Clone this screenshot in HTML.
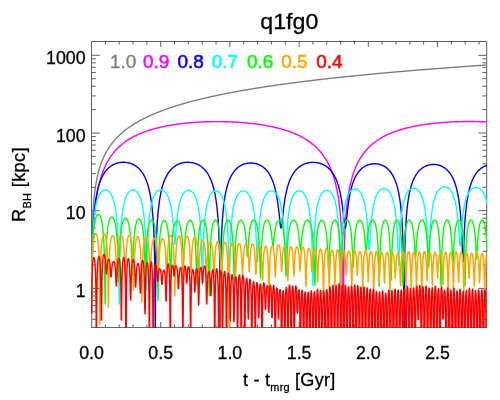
<!DOCTYPE html>
<html><head><meta charset="utf-8"><title>q1fg0</title>
<style>html,body{margin:0;padding:0;background:#fff;}svg{display:block;}.t,.t text,.t tspan{font-family:"Liberation Sans",sans-serif;}</style></head>
<body>
<svg width="500" height="400" viewBox="0 0 500 400">
<defs><clipPath id="c"><rect x="91.00" y="41.00" width="396.20" height="286.95"/></clipPath></defs>
<rect width="500" height="400" fill="#fff"/>
<path d="M91.50 41.50H486.70V327.45H91.50ZM105.34 327.45v-3.00M105.34 41.50v3.00M119.18 327.45v-3.00M119.18 41.50v3.00M133.02 327.45v-3.00M133.02 41.50v3.00M146.86 327.45v-3.00M146.86 41.50v3.00M160.70 327.45v-5.50M160.70 41.50v5.50M174.54 327.45v-3.00M174.54 41.50v3.00M188.38 327.45v-3.00M188.38 41.50v3.00M202.22 327.45v-3.00M202.22 41.50v3.00M216.06 327.45v-3.00M216.06 41.50v3.00M229.90 327.45v-5.50M229.90 41.50v5.50M243.74 327.45v-3.00M243.74 41.50v3.00M257.58 327.45v-3.00M257.58 41.50v3.00M271.42 327.45v-3.00M271.42 41.50v3.00M285.26 327.45v-3.00M285.26 41.50v3.00M299.10 327.45v-5.50M299.10 41.50v5.50M312.94 327.45v-3.00M312.94 41.50v3.00M326.78 327.45v-3.00M326.78 41.50v3.00M340.62 327.45v-3.00M340.62 41.50v3.00M354.46 327.45v-3.00M354.46 41.50v3.00M368.30 327.45v-5.50M368.30 41.50v5.50M382.14 327.45v-3.00M382.14 41.50v3.00M395.98 327.45v-3.00M395.98 41.50v3.00M409.82 327.45v-3.00M409.82 41.50v3.00M423.66 327.45v-3.00M423.66 41.50v3.00M437.50 327.45v-5.50M437.50 41.50v5.50M451.34 327.45v-3.00M451.34 41.50v3.00M465.18 327.45v-3.00M465.18 41.50v3.00M479.02 327.45v-3.00M479.02 41.50v3.00M91.50 319.32h4.30M486.70 319.32h-4.30M91.50 311.79h4.30M486.70 311.79h-4.30M91.50 305.64h4.30M486.70 305.64h-4.30M91.50 300.44h4.30M486.70 300.44h-4.30M91.50 295.93h4.30M486.70 295.93h-4.30M91.50 291.96h4.30M486.70 291.96h-4.30M91.50 288.40h8.30M486.70 288.40h-8.30M91.50 265.01h4.30M486.70 265.01h-4.30M91.50 251.33h4.30M486.70 251.33h-4.30M91.50 241.62h4.30M486.70 241.62h-4.30M91.50 234.09h4.30M486.70 234.09h-4.30M91.50 227.94h4.30M486.70 227.94h-4.30M91.50 222.74h4.30M486.70 222.74h-4.30M91.50 218.23h4.30M486.70 218.23h-4.30M91.50 214.26h4.30M486.70 214.26h-4.30M91.50 210.70h8.30M486.70 210.70h-8.30M91.50 187.31h4.30M486.70 187.31h-4.30M91.50 173.63h4.30M486.70 173.63h-4.30M91.50 163.92h4.30M486.70 163.92h-4.30M91.50 156.39h4.30M486.70 156.39h-4.30M91.50 150.24h4.30M486.70 150.24h-4.30M91.50 145.04h4.30M486.70 145.04h-4.30M91.50 140.53h4.30M486.70 140.53h-4.30M91.50 136.56h4.30M486.70 136.56h-4.30M91.50 133.00h8.30M486.70 133.00h-8.30M91.50 109.61h4.30M486.70 109.61h-4.30M91.50 95.93h4.30M486.70 95.93h-4.30M91.50 86.22h4.30M486.70 86.22h-4.30M91.50 78.69h4.30M486.70 78.69h-4.30M91.50 72.54h4.30M486.70 72.54h-4.30M91.50 67.34h4.30M486.70 67.34h-4.30M91.50 62.83h4.30M486.70 62.83h-4.30M91.50 58.86h4.30M486.70 58.86h-4.30M91.50 55.30h8.30M486.70 55.30h-8.30" fill="none" stroke="#5e5e5e" stroke-width="1"/>
<g clip-path="url(#c)" fill="none" stroke-width="1.4" stroke-linejoin="round" stroke-linecap="round">
<path stroke="#7f7f7f" d="M91.50 335.45L91.85 251.22L92.20 232.86L92.55 222.12L92.90 214.50L93.25 208.59L93.60 203.76L93.95 199.67L94.30 196.14L94.65 193.02L95.00 190.23L95.35 187.70L95.70 185.40L96.05 183.28L96.40 181.31L96.75 179.49L97.10 177.78L97.45 176.17L97.80 174.66L98.15 173.22L98.50 171.87L98.85 170.57L99.20 169.34L99.55 168.16L99.90 167.04L100.25 165.95L100.60 164.92L100.95 163.92L101.30 162.95L101.65 162.02L102.00 161.12L102.35 160.26L102.70 159.41L103.05 158.60L103.40 157.81L103.75 157.04L104.10 156.29L104.45 155.57L104.80 154.86L105.15 154.17L105.50 153.50L105.85 152.85L106.20 152.21L106.55 151.59L106.90 150.98L107.25 150.38L107.60 149.80L107.95 149.23L108.30 148.67L108.65 148.13L109.00 147.59L109.35 147.07L109.70 146.55L110.05 146.05L110.40 145.55L110.75 145.07L111.10 144.59L111.45 144.12L111.80 143.66L112.15 143.21L112.50 142.76L112.85 142.33L113.20 141.89L113.55 141.47L113.90 141.05L114.25 140.64L114.60 140.24L114.95 139.84L115.30 139.45L115.65 139.06L116.00 138.68L116.35 138.30L116.70 137.93L117.05 137.57L117.40 137.21L117.75 136.85L118.10 136.50L118.45 136.16L118.80 135.81L119.15 135.48L119.50 135.14L119.85 134.81L120.20 134.49L120.55 134.17L120.90 133.85L121.25 133.54L121.60 133.23L121.95 132.92L122.30 132.62L122.65 132.32L123.00 132.02L123.35 131.73L123.70 131.44L124.05 131.15L124.40 130.87L124.75 130.59L125.10 130.31L125.45 130.04L125.80 129.77L126.15 129.50L126.50 129.23L126.85 128.97L127.20 128.71L127.55 128.45L127.90 128.19L128.25 127.94L128.60 127.69L128.95 127.44L129.30 127.19L129.65 126.95L130.00 126.71L130.35 126.47L130.70 126.23L131.05 125.99L131.40 125.76L131.75 125.53L132.10 125.30L132.45 125.07L132.80 124.85L133.15 124.62L133.50 124.40L133.85 124.18L134.20 123.96L134.55 123.75L134.90 123.53L135.25 123.32L135.60 123.11L135.95 122.90L136.30 122.69L136.65 122.49L137.00 122.28L137.35 122.08L137.70 121.88L138.05 121.68L138.40 121.48L138.75 121.28L139.10 121.09L139.45 120.89L139.80 120.70L140.15 120.51L140.50 120.32L140.85 120.13L141.20 119.94L141.55 119.76L141.90 119.57L142.25 119.39L142.60 119.21L142.95 119.03L143.30 118.85L143.65 118.67L144.00 118.49L144.35 118.32L144.70 118.14L145.05 117.97L145.40 117.79L145.75 117.62L146.10 117.45L146.45 117.28L146.80 117.11L147.15 116.95L147.50 116.78L147.85 116.62L148.20 116.45L148.55 116.29L148.90 116.13L149.25 115.97L149.60 115.81L149.95 115.65L150.30 115.49L150.65 115.33L151.00 115.18L151.35 115.02L151.70 114.87L152.05 114.71L152.40 114.56L152.75 114.41L153.10 114.26L153.45 114.11L153.80 113.96L154.15 113.81L154.50 113.66L154.85 113.51L155.20 113.37L155.55 113.22L155.90 113.08L156.25 112.94L156.60 112.79L156.95 112.65L157.30 112.51L157.65 112.37L158.00 112.23L158.35 112.09L158.70 111.95L159.05 111.81L159.40 111.68L159.75 111.54L160.10 111.41L160.45 111.27L160.80 111.14L161.15 111.00L161.50 110.87L161.85 110.74L162.20 110.61L162.55 110.48L162.90 110.35L163.25 110.22L163.60 110.09L163.95 109.96L164.30 109.83L164.65 109.70L165.00 109.58L165.35 109.45L165.70 109.33L166.05 109.20L166.40 109.08L166.75 108.95L167.10 108.83L167.45 108.71L167.80 108.59L168.15 108.47L168.50 108.35L168.85 108.23L169.20 108.11L169.55 107.99L169.90 107.87L170.25 107.75L170.60 107.63L170.95 107.52L171.30 107.40L171.65 107.28L172.00 107.17L172.35 107.05L172.70 106.94L173.05 106.83L173.40 106.71L173.75 106.60L174.10 106.49L174.45 106.37L174.80 106.26L175.15 106.15L175.50 106.04L175.85 105.93L176.20 105.82L176.55 105.71L176.90 105.60L177.25 105.49L177.60 105.39L177.95 105.28L178.30 105.17L178.65 105.07L179.00 104.96L179.35 104.85L179.70 104.75L180.05 104.64L180.40 104.54L180.75 104.44L181.10 104.33L181.45 104.23L181.80 104.13L182.15 104.02L182.50 103.92L182.85 103.82L183.20 103.72L183.55 103.62L183.90 103.52L184.25 103.42L184.60 103.32L184.95 103.22L185.30 103.12L185.65 103.02L186.00 102.92L186.35 102.82L186.70 102.73L187.05 102.63L187.40 102.53L187.75 102.43L188.10 102.34L188.45 102.24L188.80 102.15L189.15 102.05L189.50 101.96L189.85 101.86L190.20 101.77L190.55 101.68L190.90 101.58L191.25 101.49L191.60 101.40L191.95 101.30L192.30 101.21L192.65 101.12L193.00 101.03L193.35 100.94L193.70 100.85L194.05 100.76L194.40 100.67L194.75 100.58L195.10 100.49L195.45 100.40L195.80 100.31L196.15 100.22L196.50 100.13L196.85 100.04L197.20 99.95L197.55 99.87L197.90 99.78L198.25 99.69L198.60 99.61L198.95 99.52L199.30 99.43L199.65 99.35L200.00 99.26L200.35 99.18L200.70 99.09L201.05 99.01L201.40 98.92L201.75 98.84L202.10 98.75L202.45 98.67L202.80 98.59L203.15 98.50L203.50 98.42L203.85 98.34L204.20 98.26L204.55 98.17L204.90 98.09L205.25 98.01L205.60 97.93L205.95 97.85L206.30 97.77L206.65 97.69L207.00 97.61L207.35 97.53L207.70 97.45L208.05 97.37L208.40 97.29L208.75 97.21L209.10 97.13L209.45 97.05L209.80 96.97L210.15 96.89L210.50 96.81L210.85 96.74L211.20 96.66L211.55 96.58L211.90 96.50L212.25 96.43L212.60 96.35L212.95 96.27L213.30 96.20L213.65 96.12L214.00 96.05L214.35 95.97L214.70 95.90L215.05 95.82L215.40 95.75L215.75 95.67L216.10 95.60L216.45 95.52L216.80 95.45L217.15 95.37L217.50 95.30L217.85 95.23L218.20 95.15L218.55 95.08L218.90 95.01L219.25 94.93L219.60 94.86L219.95 94.79L220.30 94.72L220.65 94.65L221.00 94.57L221.35 94.50L221.70 94.43L222.05 94.36L222.40 94.29L222.75 94.22L223.10 94.15L223.45 94.08L223.80 94.01L224.15 93.94L224.50 93.87L224.85 93.80L225.20 93.73L225.55 93.66L225.90 93.59L226.25 93.52L226.60 93.45L226.95 93.38L227.30 93.32L227.65 93.25L228.00 93.18L228.35 93.11L228.70 93.04L229.05 92.98L229.40 92.91L229.75 92.84L230.10 92.78L230.45 92.71L230.80 92.64L231.15 92.58L231.50 92.51L231.85 92.44L232.20 92.38L232.55 92.31L232.90 92.25L233.25 92.18L233.60 92.12L233.95 92.05L234.30 91.98L234.65 91.92L235.00 91.86L235.35 91.79L235.70 91.73L236.05 91.66L236.40 91.60L236.75 91.53L237.10 91.47L237.45 91.41L237.80 91.34L238.15 91.28L238.50 91.22L238.85 91.15L239.20 91.09L239.55 91.03L239.90 90.97L240.25 90.90L240.60 90.84L240.95 90.78L241.30 90.72L241.65 90.66L242.00 90.59L242.35 90.53L242.70 90.47L243.05 90.41L243.40 90.35L243.75 90.29L244.10 90.23L244.45 90.17L244.80 90.11L245.15 90.04L245.50 89.98L245.85 89.92L246.20 89.86L246.55 89.80L246.90 89.74L247.25 89.69L247.60 89.63L247.95 89.57L248.30 89.51L248.65 89.45L249.00 89.39L249.35 89.33L249.70 89.27L250.05 89.21L250.40 89.15L250.75 89.10L251.10 89.04L251.45 88.98L251.80 88.92L252.15 88.86L252.50 88.81L252.85 88.75L253.20 88.69L253.55 88.63L253.90 88.58L254.25 88.52L254.60 88.46L254.95 88.41L255.30 88.35L255.65 88.29L256.00 88.24L256.35 88.18L256.70 88.12L257.05 88.07L257.40 88.01L257.75 87.96L258.10 87.90L258.45 87.85L258.80 87.79L259.15 87.74L259.50 87.68L259.85 87.62L260.20 87.57L260.55 87.51L260.90 87.46L261.25 87.41L261.60 87.35L261.95 87.30L262.30 87.24L262.65 87.19L263.00 87.13L263.35 87.08L263.70 87.03L264.05 86.97L264.40 86.92L264.75 86.86L265.10 86.81L265.45 86.76L265.80 86.70L266.15 86.65L266.50 86.60L266.85 86.55L267.20 86.49L267.55 86.44L267.90 86.39L268.25 86.33L268.60 86.28L268.95 86.23L269.30 86.18L269.65 86.13L270.00 86.07L270.35 86.02L270.70 85.97L271.05 85.92L271.40 85.87L271.75 85.82L272.10 85.76L272.45 85.71L272.80 85.66L273.15 85.61L273.50 85.56L273.85 85.51L274.20 85.46L274.55 85.41L274.90 85.36L275.25 85.31L275.60 85.26L275.95 85.21L276.30 85.16L276.65 85.10L277.00 85.05L277.35 85.00L277.70 84.96L278.05 84.91L278.40 84.86L278.75 84.81L279.10 84.76L279.45 84.71L279.80 84.66L280.15 84.61L280.50 84.56L280.85 84.51L281.20 84.46L281.55 84.41L281.90 84.36L282.25 84.32L282.60 84.27L282.95 84.22L283.30 84.17L283.65 84.12L284.00 84.07L284.35 84.03L284.70 83.98L285.05 83.93L285.40 83.88L285.75 83.83L286.10 83.79L286.45 83.74L286.80 83.69L287.15 83.64L287.50 83.60L287.85 83.55L288.20 83.50L288.55 83.45L288.90 83.41L289.25 83.36L289.60 83.31L289.95 83.27L290.30 83.22L290.65 83.17L291.00 83.13L291.35 83.08L291.70 83.03L292.05 82.99L292.40 82.94L292.75 82.90L293.10 82.85L293.45 82.80L293.80 82.76L294.15 82.71L294.50 82.67L294.85 82.62L295.20 82.58L295.55 82.53L295.90 82.48L296.25 82.44L296.60 82.39L296.95 82.35L297.30 82.30L297.65 82.26L298.00 82.21L298.35 82.17L298.70 82.12L299.05 82.08L299.40 82.04L299.75 81.99L300.10 81.95L300.45 81.90L300.80 81.86L301.15 81.81L301.50 81.77L301.85 81.72L302.20 81.68L302.55 81.64L302.90 81.59L303.25 81.55L303.60 81.51L303.95 81.46L304.30 81.42L304.65 81.37L305.00 81.33L305.35 81.29L305.70 81.24L306.05 81.20L306.40 81.16L306.75 81.11L307.10 81.07L307.45 81.03L307.80 80.99L308.15 80.94L308.50 80.90L308.85 80.86L309.20 80.81L309.55 80.77L309.90 80.73L310.25 80.69L310.60 80.65L310.95 80.60L311.30 80.56L311.65 80.52L312.00 80.48L312.35 80.43L312.70 80.39L313.05 80.35L313.40 80.31L313.75 80.27L314.10 80.23L314.45 80.18L314.80 80.14L315.15 80.10L315.50 80.06L315.85 80.02L316.20 79.98L316.55 79.94L316.90 79.89L317.25 79.85L317.60 79.81L317.95 79.77L318.30 79.73L318.65 79.69L319.00 79.65L319.35 79.61L319.70 79.57L320.05 79.53L320.40 79.49L320.75 79.45L321.10 79.41L321.45 79.36L321.80 79.32L322.15 79.28L322.50 79.24L322.85 79.20L323.20 79.16L323.55 79.12L323.90 79.08L324.25 79.04L324.60 79.00L324.95 78.96L325.30 78.92L325.65 78.89L326.00 78.85L326.35 78.81L326.70 78.77L327.05 78.73L327.40 78.69L327.75 78.65L328.10 78.61L328.45 78.57L328.80 78.53L329.15 78.49L329.50 78.45L329.85 78.41L330.20 78.38L330.55 78.34L330.90 78.30L331.25 78.26L331.60 78.22L331.95 78.18L332.30 78.14L332.65 78.10L333.00 78.07L333.35 78.03L333.70 77.99L334.05 77.95L334.40 77.91L334.75 77.88L335.10 77.84L335.45 77.80L335.80 77.76L336.15 77.72L336.50 77.69L336.85 77.65L337.20 77.61L337.55 77.57L337.90 77.53L338.25 77.50L338.60 77.46L338.95 77.42L339.30 77.38L339.65 77.35L340.00 77.31L340.35 77.27L340.70 77.24L341.05 77.20L341.40 77.16L341.75 77.12L342.10 77.09L342.45 77.05L342.80 77.01L343.15 76.98L343.50 76.94L343.85 76.90L344.20 76.87L344.55 76.83L344.90 76.79L345.25 76.76L345.60 76.72L345.95 76.68L346.30 76.65L346.65 76.61L347.00 76.57L347.35 76.54L347.70 76.50L348.05 76.47L348.40 76.43L348.75 76.39L349.10 76.36L349.45 76.32L349.80 76.29L350.15 76.25L350.50 76.21L350.85 76.18L351.20 76.14L351.55 76.11L351.90 76.07L352.25 76.04L352.60 76.00L352.95 75.96L353.30 75.93L353.65 75.89L354.00 75.86L354.35 75.82L354.70 75.79L355.05 75.75L355.40 75.72L355.75 75.68L356.10 75.65L356.45 75.61L356.80 75.58L357.15 75.54L357.50 75.51L357.85 75.47L358.20 75.44L358.55 75.40L358.90 75.37L359.25 75.33L359.60 75.30L359.95 75.26L360.30 75.23L360.65 75.20L361.00 75.16L361.35 75.13L361.70 75.09L362.05 75.06L362.40 75.02L362.75 74.99L363.10 74.96L363.45 74.92L363.80 74.89L364.15 74.85L364.50 74.82L364.85 74.78L365.20 74.75L365.55 74.72L365.90 74.68L366.25 74.65L366.60 74.62L366.95 74.58L367.30 74.55L367.65 74.51L368.00 74.48L368.35 74.45L368.70 74.41L369.05 74.38L369.40 74.35L369.75 74.31L370.10 74.28L370.45 74.25L370.80 74.21L371.15 74.18L371.50 74.15L371.85 74.12L372.20 74.08L372.55 74.05L372.90 74.02L373.25 73.98L373.60 73.95L373.95 73.92L374.30 73.88L374.65 73.85L375.00 73.82L375.35 73.79L375.70 73.75L376.05 73.72L376.40 73.69L376.75 73.66L377.10 73.62L377.45 73.59L377.80 73.56L378.15 73.53L378.50 73.49L378.85 73.46L379.20 73.43L379.55 73.40L379.90 73.37L380.25 73.33L380.60 73.30L380.95 73.27L381.30 73.24L381.65 73.20L382.00 73.17L382.35 73.14L382.70 73.11L383.05 73.08L383.40 73.05L383.75 73.01L384.10 72.98L384.45 72.95L384.80 72.92L385.15 72.89L385.50 72.86L385.85 72.82L386.20 72.79L386.55 72.76L386.90 72.73L387.25 72.70L387.60 72.67L387.95 72.64L388.30 72.60L388.65 72.57L389.00 72.54L389.35 72.51L389.70 72.48L390.05 72.45L390.40 72.42L390.75 72.39L391.10 72.36L391.45 72.33L391.80 72.29L392.15 72.26L392.50 72.23L392.85 72.20L393.20 72.17L393.55 72.14L393.90 72.11L394.25 72.08L394.60 72.05L394.95 72.02L395.30 71.99L395.65 71.96L396.00 71.93L396.35 71.90L396.70 71.87L397.05 71.84L397.40 71.80L397.75 71.77L398.10 71.74L398.45 71.71L398.80 71.68L399.15 71.65L399.50 71.62L399.85 71.59L400.20 71.56L400.55 71.53L400.90 71.50L401.25 71.47L401.60 71.44L401.95 71.41L402.30 71.38L402.65 71.35L403.00 71.32L403.35 71.29L403.70 71.26L404.05 71.24L404.40 71.21L404.75 71.18L405.10 71.15L405.45 71.12L405.80 71.09L406.15 71.06L406.50 71.03L406.85 71.00L407.20 70.97L407.55 70.94L407.90 70.91L408.25 70.88L408.60 70.85L408.95 70.82L409.30 70.79L409.65 70.76L410.00 70.74L410.35 70.71L410.70 70.68L411.05 70.65L411.40 70.62L411.75 70.59L412.10 70.56L412.45 70.53L412.80 70.50L413.15 70.47L413.50 70.45L413.85 70.42L414.20 70.39L414.55 70.36L414.90 70.33L415.25 70.30L415.60 70.27L415.95 70.25L416.30 70.22L416.65 70.19L417.00 70.16L417.35 70.13L417.70 70.10L418.05 70.07L418.40 70.05L418.75 70.02L419.10 69.99L419.45 69.96L419.80 69.93L420.15 69.90L420.50 69.88L420.85 69.85L421.20 69.82L421.55 69.79L421.90 69.76L422.25 69.74L422.60 69.71L422.95 69.68L423.30 69.65L423.65 69.62L424.00 69.60L424.35 69.57L424.70 69.54L425.05 69.51L425.40 69.48L425.75 69.46L426.10 69.43L426.45 69.40L426.80 69.37L427.15 69.35L427.50 69.32L427.85 69.29L428.20 69.26L428.55 69.24L428.90 69.21L429.25 69.18L429.60 69.15L429.95 69.13L430.30 69.10L430.65 69.07L431.00 69.04L431.35 69.02L431.70 68.99L432.05 68.96L432.40 68.94L432.75 68.91L433.10 68.88L433.45 68.85L433.80 68.83L434.15 68.80L434.50 68.77L434.85 68.75L435.20 68.72L435.55 68.69L435.90 68.66L436.25 68.64L436.60 68.61L436.95 68.58L437.30 68.56L437.65 68.53L438.00 68.50L438.35 68.48L438.70 68.45L439.05 68.42L439.40 68.40L439.75 68.37L440.10 68.34L440.45 68.32L440.80 68.29L441.15 68.26L441.50 68.24L441.85 68.21L442.20 68.18L442.55 68.16L442.90 68.13L443.25 68.11L443.60 68.08L443.95 68.05L444.30 68.03L444.65 68.00L445.00 67.97L445.35 67.95L445.70 67.92L446.05 67.90L446.40 67.87L446.75 67.84L447.10 67.82L447.45 67.79L447.80 67.76L448.15 67.74L448.50 67.71L448.85 67.69L449.20 67.66L449.55 67.63L449.90 67.61L450.25 67.58L450.60 67.56L450.95 67.53L451.30 67.51L451.65 67.48L452.00 67.45L452.35 67.43L452.70 67.40L453.05 67.38L453.40 67.35L453.75 67.33L454.10 67.30L454.45 67.27L454.80 67.25L455.15 67.22L455.50 67.20L455.85 67.17L456.20 67.15L456.55 67.12L456.90 67.10L457.25 67.07L457.60 67.05L457.95 67.02L458.30 67.00L458.65 66.97L459.00 66.94L459.35 66.92L459.70 66.89L460.05 66.87L460.40 66.84L460.75 66.82L461.10 66.79L461.45 66.77L461.80 66.74L462.15 66.72L462.50 66.69L462.85 66.67L463.20 66.64L463.55 66.62L463.90 66.59L464.25 66.57L464.60 66.54L464.95 66.52L465.30 66.49L465.65 66.47L466.00 66.44L466.35 66.42L466.70 66.40L467.05 66.37L467.40 66.35L467.75 66.32L468.10 66.30L468.45 66.27L468.80 66.25L469.15 66.22L469.50 66.20L469.85 66.17L470.20 66.15L470.55 66.13L470.90 66.10L471.25 66.08L471.60 66.05L471.95 66.03L472.30 66.00L472.65 65.98L473.00 65.95L473.35 65.93L473.70 65.91L474.05 65.88L474.40 65.86L474.75 65.83L475.10 65.81L475.45 65.78L475.80 65.76L476.15 65.74L476.50 65.71L476.85 65.69L477.20 65.66L477.55 65.64L477.90 65.62L478.25 65.59L478.60 65.57L478.95 65.54L479.30 65.52L479.65 65.50L480.00 65.47L480.35 65.45L480.70 65.43L481.05 65.40L481.40 65.38L481.75 65.35L482.10 65.33L482.45 65.31L482.80 65.28L483.15 65.26L483.50 65.24L483.85 65.21L484.20 65.19L484.55 65.16L484.90 65.14L485.25 65.12L485.60 65.09L485.95 65.07L486.30 65.05L486.65 65.02L487.00 65.00"/>
<path stroke="#ff00ff" d="M91.50 313.17L91.85 282.81L92.20 261.77L92.55 248.65L92.90 239.21L93.25 231.87L93.60 225.87L93.95 220.81L94.30 216.43L94.65 212.58L95.00 209.14L95.35 206.04L95.70 203.22L96.05 200.64L96.40 198.25L96.75 196.04L97.10 193.97L97.45 192.04L97.80 190.22L98.15 188.51L98.50 186.89L98.85 185.35L99.20 183.89L99.55 182.50L99.90 181.18L100.25 179.91L100.60 178.70L100.95 177.53L101.30 176.41L101.65 175.34L102.00 174.30L102.35 173.31L102.70 172.34L103.05 171.41L103.40 170.51L103.75 169.64L104.10 168.80L104.45 167.98L104.80 167.19L105.15 166.42L105.50 165.68L105.85 164.95L106.20 164.24L106.55 163.56L106.90 162.89L107.25 162.23L107.60 161.60L107.95 160.98L108.30 160.38L108.65 159.79L109.00 159.21L109.35 158.65L109.70 158.10L110.05 157.56L110.40 157.03L110.75 156.52L111.10 156.02L111.45 155.52L111.80 155.04L112.15 154.57L112.50 154.11L112.85 153.65L113.20 153.21L113.55 152.77L113.90 152.35L114.25 151.93L114.60 151.51L114.95 151.11L115.30 150.71L115.65 150.32L116.00 149.94L116.35 149.57L116.70 149.20L117.05 148.83L117.40 148.48L117.75 148.13L118.10 147.78L118.45 147.44L118.80 147.11L119.15 146.78L119.50 146.46L119.85 146.14L120.20 145.83L120.55 145.52L120.90 145.22L121.25 144.92L121.60 144.62L121.95 144.34L122.30 144.05L122.65 143.77L123.00 143.49L123.35 143.22L123.70 142.95L124.05 142.69L124.40 142.43L124.75 142.17L125.10 141.92L125.45 141.67L125.80 141.42L126.15 141.18L126.50 140.94L126.85 140.70L127.20 140.47L127.55 140.24L127.90 140.01L128.25 139.78L128.60 139.56L128.95 139.34L129.30 139.13L129.65 138.92L130.00 138.71L130.35 138.50L130.70 138.29L131.05 138.09L131.40 137.89L131.75 137.70L132.10 137.50L132.45 137.31L132.80 137.12L133.15 136.93L133.50 136.75L133.85 136.56L134.20 136.38L134.55 136.20L134.90 136.03L135.25 135.85L135.60 135.68L135.95 135.51L136.30 135.34L136.65 135.18L137.00 135.01L137.35 134.85L137.70 134.69L138.05 134.53L138.40 134.37L138.75 134.22L139.10 134.06L139.45 133.91L139.80 133.76L140.15 133.61L140.50 133.47L140.85 133.32L141.20 133.18L141.55 133.04L141.90 132.90L142.25 132.76L142.60 132.62L142.95 132.48L143.30 132.35L143.65 132.22L144.00 132.09L144.35 131.96L144.70 131.83L145.05 131.70L145.40 131.58L145.75 131.45L146.10 131.33L146.45 131.21L146.80 131.09L147.15 130.97L147.50 130.85L147.85 130.73L148.20 130.62L148.55 130.50L148.90 130.39L149.25 130.28L149.60 130.17L149.95 130.06L150.30 129.95L150.65 129.84L151.00 129.73L151.35 129.63L151.70 129.53L152.05 129.42L152.40 129.32L152.75 129.22L153.10 129.12L153.45 129.02L153.80 128.92L154.15 128.83L154.50 128.73L154.85 128.64L155.20 128.54L155.55 128.45L155.90 128.36L156.25 128.27L156.60 128.18L156.95 128.09L157.30 128.00L157.65 127.91L158.00 127.82L158.35 127.74L158.70 127.65L159.05 127.57L159.40 127.49L159.75 127.41L160.10 127.32L160.45 127.24L160.80 127.16L161.15 127.09L161.50 127.01L161.85 126.93L162.20 126.85L162.55 126.78L162.90 126.70L163.25 126.63L163.60 126.55L163.95 126.48L164.30 126.41L164.65 126.34L165.00 126.27L165.35 126.20L165.70 126.13L166.05 126.06L166.40 125.99L166.75 125.93L167.10 125.86L167.45 125.80L167.80 125.73L168.15 125.67L168.50 125.60L168.85 125.54L169.20 125.48L169.55 125.42L169.90 125.36L170.25 125.30L170.60 125.24L170.95 125.18L171.30 125.12L171.65 125.06L172.00 125.00L172.35 124.95L172.70 124.89L173.05 124.84L173.40 124.78L173.75 124.73L174.10 124.67L174.45 124.62L174.80 124.57L175.15 124.52L175.50 124.46L175.85 124.41L176.20 124.36L176.55 124.31L176.90 124.27L177.25 124.22L177.60 124.17L177.95 124.12L178.30 124.07L178.65 124.03L179.00 123.98L179.35 123.94L179.70 123.89L180.05 123.85L180.40 123.81L180.75 123.76L181.10 123.72L181.45 123.68L181.80 123.64L182.15 123.59L182.50 123.55L182.85 123.51L183.20 123.47L183.55 123.43L183.90 123.40L184.25 123.36L184.60 123.32L184.95 123.28L185.30 123.25L185.65 123.21L186.00 123.17L186.35 123.14L186.70 123.10L187.05 123.07L187.40 123.04L187.75 123.00L188.10 122.97L188.45 122.94L188.80 122.90L189.15 122.87L189.50 122.84L189.85 122.81L190.20 122.78L190.55 122.75L190.90 122.72L191.25 122.69L191.60 122.66L191.95 122.63L192.30 122.61L192.65 122.58L193.00 122.55L193.35 122.53L193.70 122.50L194.05 122.47L194.40 122.45L194.75 122.42L195.10 122.40L195.45 122.38L195.80 122.35L196.15 122.33L196.50 122.31L196.85 122.28L197.20 122.26L197.55 122.24L197.90 122.22L198.25 122.20L198.60 122.18L198.95 122.16L199.30 122.14L199.65 122.12L200.00 122.10L200.35 122.08L200.70 122.06L201.05 122.05L201.40 122.03L201.75 122.01L202.10 122.00L202.45 121.98L202.80 121.97L203.15 121.95L203.50 121.94L203.85 121.92L204.20 121.91L204.55 121.89L204.90 121.88L205.25 121.87L205.60 121.85L205.95 121.84L206.30 121.83L206.65 121.82L207.00 121.81L207.35 121.80L207.70 121.79L208.05 121.78L208.40 121.77L208.75 121.76L209.10 121.75L209.45 121.74L209.80 121.73L210.15 121.72L210.50 121.72L210.85 121.71L211.20 121.70L211.55 121.70L211.90 121.69L212.25 121.69L212.60 121.68L212.95 121.68L213.30 121.67L213.65 121.67L214.00 121.66L214.35 121.66L214.70 121.66L215.05 121.65L215.40 121.65L215.75 121.65L216.10 121.65L216.45 121.65L216.80 121.65L217.15 121.65L217.50 121.65L217.85 121.65L218.20 121.65L218.55 121.65L218.90 121.65L219.25 121.65L219.60 121.65L219.95 121.66L220.30 121.66L220.65 121.66L221.00 121.67L221.35 121.67L221.70 121.67L222.05 121.68L222.40 121.68L222.75 121.69L223.10 121.69L223.45 121.70L223.80 121.71L224.15 121.71L224.50 121.72L224.85 121.73L225.20 121.74L225.55 121.74L225.90 121.75L226.25 121.76L226.60 121.77L226.95 121.78L227.30 121.79L227.65 121.80L228.00 121.81L228.35 121.82L228.70 121.84L229.05 121.85L229.40 121.86L229.75 121.87L230.10 121.89L230.45 121.90L230.80 121.91L231.15 121.93L231.50 121.94L231.85 121.96L232.20 121.97L232.55 121.99L232.90 122.01L233.25 122.02L233.60 122.04L233.95 122.06L234.30 122.08L234.65 122.09L235.00 122.11L235.35 122.13L235.70 122.15L236.05 122.17L236.40 122.19L236.75 122.21L237.10 122.23L237.45 122.25L237.80 122.27L238.15 122.30L238.50 122.32L238.85 122.34L239.20 122.37L239.55 122.39L239.90 122.41L240.25 122.44L240.60 122.46L240.95 122.49L241.30 122.52L241.65 122.54L242.00 122.57L242.35 122.60L242.70 122.62L243.05 122.65L243.40 122.68L243.75 122.71L244.10 122.74L244.45 122.77L244.80 122.80L245.15 122.83L245.50 122.86L245.85 122.89L246.20 122.92L246.55 122.96L246.90 122.99L247.25 123.02L247.60 123.05L247.95 123.09L248.30 123.12L248.65 123.16L249.00 123.19L249.35 123.23L249.70 123.27L250.05 123.30L250.40 123.34L250.75 123.38L251.10 123.42L251.45 123.46L251.80 123.50L252.15 123.54L252.50 123.58L252.85 123.62L253.20 123.66L253.55 123.70L253.90 123.74L254.25 123.79L254.60 123.83L254.95 123.87L255.30 123.92L255.65 123.96L256.00 124.01L256.35 124.06L256.70 124.10L257.05 124.15L257.40 124.20L257.75 124.24L258.10 124.29L258.45 124.34L258.80 124.39L259.15 124.44L259.50 124.49L259.85 124.55L260.20 124.60L260.55 124.65L260.90 124.70L261.25 124.76L261.60 124.81L261.95 124.87L262.30 124.92L262.65 124.98L263.00 125.04L263.35 125.09L263.70 125.15L264.05 125.21L264.40 125.27L264.75 125.33L265.10 125.39L265.45 125.45L265.80 125.51L266.15 125.58L266.50 125.64L266.85 125.70L267.20 125.77L267.55 125.83L267.90 125.90L268.25 125.97L268.60 126.03L268.95 126.10L269.30 126.17L269.65 126.24L270.00 126.31L270.35 126.38L270.70 126.45L271.05 126.52L271.40 126.60L271.75 126.67L272.10 126.75L272.45 126.82L272.80 126.90L273.15 126.97L273.50 127.05L273.85 127.13L274.20 127.21L274.55 127.29L274.90 127.37L275.25 127.45L275.60 127.54L275.95 127.62L276.30 127.70L276.65 127.79L277.00 127.87L277.35 127.96L277.70 128.05L278.05 128.14L278.40 128.23L278.75 128.32L279.10 128.41L279.45 128.50L279.80 128.60L280.15 128.69L280.50 128.79L280.85 128.88L281.20 128.98L281.55 129.08L281.90 129.18L282.25 129.28L282.60 129.38L282.95 129.48L283.30 129.58L283.65 129.69L284.00 129.80L284.35 129.90L284.70 130.01L285.05 130.12L285.40 130.23L285.75 130.34L286.10 130.45L286.45 130.57L286.80 130.68L287.15 130.80L287.50 130.92L287.85 131.03L288.20 131.15L288.55 131.28L288.90 131.40L289.25 131.52L289.60 131.65L289.95 131.77L290.30 131.90L290.65 132.03L291.00 132.16L291.35 132.29L291.70 132.43L292.05 132.56L292.40 132.70L292.75 132.84L293.10 132.98L293.45 133.12L293.80 133.26L294.15 133.41L294.50 133.55L294.85 133.70L295.20 133.85L295.55 134.00L295.90 134.15L296.25 134.31L296.60 134.46L296.95 134.62L297.30 134.78L297.65 134.94L298.00 135.11L298.35 135.27L298.70 135.44L299.05 135.61L299.40 135.78L299.75 135.95L300.10 136.13L300.45 136.31L300.80 136.49L301.15 136.67L301.50 136.85L301.85 137.04L302.20 137.23L302.55 137.42L302.90 137.61L303.25 137.81L303.60 138.01L303.95 138.21L304.30 138.41L304.65 138.62L305.00 138.83L305.35 139.04L305.70 139.25L306.05 139.47L306.40 139.69L306.75 139.91L307.10 140.14L307.45 140.37L307.80 140.60L308.15 140.83L308.50 141.07L308.85 141.31L309.20 141.56L309.55 141.81L309.90 142.06L310.25 142.32L310.60 142.58L310.95 142.84L311.30 143.11L311.65 143.38L312.00 143.65L312.35 143.93L312.70 144.21L313.05 144.50L313.40 144.79L313.75 145.09L314.10 145.39L314.45 145.70L314.80 146.01L315.15 146.32L315.50 146.64L315.85 146.97L316.20 147.30L316.55 147.64L316.90 147.98L317.25 148.33L317.60 148.68L317.95 149.04L318.30 149.41L318.65 149.78L319.00 150.16L319.35 150.55L319.70 150.94L320.05 151.34L320.40 151.75L320.75 152.17L321.10 152.59L321.45 153.02L321.80 153.46L322.15 153.91L322.50 154.37L322.85 154.84L323.20 155.32L323.55 155.81L323.90 156.30L324.25 156.81L324.60 157.33L324.95 157.87L325.30 158.41L325.65 158.97L326.00 159.54L326.35 160.12L326.70 160.72L327.05 161.33L327.40 161.96L327.75 162.61L328.10 163.27L328.45 163.95L328.80 164.65L329.15 165.36L329.50 166.10L329.85 166.86L330.20 167.64L330.55 168.45L330.90 169.28L331.25 170.14L331.60 171.03L331.95 171.94L332.30 172.89L332.65 173.88L333.00 174.89L333.35 175.95L333.70 177.05L334.05 178.20L334.40 179.39L334.75 180.63L335.10 181.93L335.45 183.30L335.80 184.73L336.15 186.23L336.50 187.81L336.85 189.48L337.20 191.26L337.55 193.14L337.90 195.15L338.25 197.30L338.60 199.61L338.95 202.11L339.30 204.83L339.65 207.81L340.00 211.10L340.35 214.77L340.70 218.92L341.05 223.69L341.40 229.28L341.75 236.04L342.10 244.56L342.45 256.09L342.80 273.88L343.15 314.39L343.30 335.45L343.50 302.05L343.85 268.05L344.20 251.56L344.55 240.61L344.90 232.41L345.25 225.87L345.60 220.43L345.95 215.78L346.30 211.73L346.65 208.14L347.00 204.91L347.35 201.99L347.70 199.33L348.05 196.87L348.40 194.61L348.75 192.49L349.10 190.52L349.45 188.67L349.80 186.94L350.15 185.29L350.50 183.74L350.85 182.27L351.20 180.86L351.55 179.53L351.90 178.25L352.25 177.03L352.60 175.86L352.95 174.74L353.30 173.67L353.65 172.63L354.00 171.63L354.35 170.67L354.70 169.75L355.05 168.85L355.40 167.98L355.75 167.14L356.10 166.33L356.45 165.54L356.80 164.78L357.15 164.04L357.50 163.32L357.85 162.62L358.20 161.94L358.55 161.28L358.90 160.63L359.25 160.01L359.60 159.40L359.95 158.80L360.30 158.22L360.65 157.65L361.00 157.10L361.35 156.55L361.70 156.03L362.05 155.51L362.40 155.00L362.75 154.51L363.10 154.03L363.45 153.55L363.80 153.09L364.15 152.64L364.50 152.19L364.85 151.76L365.20 151.33L365.55 150.91L365.90 150.50L366.25 150.10L366.60 149.71L366.95 149.32L367.30 148.94L367.65 148.57L368.00 148.20L368.35 147.84L368.70 147.49L369.05 147.14L369.40 146.80L369.75 146.46L370.10 146.13L370.45 145.81L370.80 145.49L371.15 145.18L371.50 144.87L371.85 144.57L372.20 144.27L372.55 143.97L372.90 143.69L373.25 143.40L373.60 143.12L373.95 142.85L374.30 142.57L374.65 142.31L375.00 142.04L375.35 141.78L375.70 141.53L376.05 141.28L376.40 141.03L376.75 140.78L377.10 140.54L377.45 140.30L377.80 140.07L378.15 139.84L378.50 139.61L378.85 139.39L379.20 139.16L379.55 138.95L379.90 138.73L380.25 138.52L380.60 138.31L380.95 138.10L381.30 137.90L381.65 137.69L382.00 137.49L382.35 137.30L382.70 137.10L383.05 136.91L383.40 136.72L383.75 136.54L384.10 136.35L384.45 136.17L384.80 135.99L385.15 135.81L385.50 135.64L385.85 135.47L386.20 135.30L386.55 135.13L386.90 134.96L387.25 134.80L387.60 134.63L387.95 134.47L388.30 134.31L388.65 134.16L389.00 134.00L389.35 133.85L389.70 133.70L390.05 133.55L390.40 133.40L390.75 133.25L391.10 133.11L391.45 132.96L391.80 132.82L392.15 132.68L392.50 132.55L392.85 132.41L393.20 132.27L393.55 132.14L393.90 132.01L394.25 131.88L394.60 131.75L394.95 131.62L395.30 131.49L395.65 131.37L396.00 131.25L396.35 131.12L396.70 131.00L397.05 130.88L397.40 130.77L397.75 130.65L398.10 130.53L398.45 130.42L398.80 130.31L399.15 130.19L399.50 130.08L399.85 129.97L400.20 129.87L400.55 129.76L400.90 129.65L401.25 129.55L401.60 129.44L401.95 129.34L402.30 129.24L402.65 129.14L403.00 129.04L403.35 128.94L403.70 128.84L404.05 128.75L404.40 128.65L404.75 128.56L405.10 128.46L405.45 128.37L405.80 128.28L406.15 128.19L406.50 128.10L406.85 128.01L407.20 127.92L407.55 127.84L407.90 127.75L408.25 127.67L408.60 127.58L408.95 127.50L409.30 127.42L409.65 127.34L410.00 127.25L410.35 127.17L410.70 127.10L411.05 127.02L411.40 126.94L411.75 126.86L412.10 126.79L412.45 126.71L412.80 126.64L413.15 126.56L413.50 126.49L413.85 126.42L414.20 126.35L414.55 126.28L414.90 126.21L415.25 126.14L415.60 126.07L415.95 126.00L416.30 125.94L416.65 125.87L417.00 125.80L417.35 125.74L417.70 125.67L418.05 125.61L418.40 125.55L418.75 125.49L419.10 125.42L419.45 125.36L419.80 125.30L420.15 125.24L420.50 125.18L420.85 125.13L421.20 125.07L421.55 125.01L421.90 124.95L422.25 124.90L422.60 124.84L422.95 124.79L423.30 124.73L423.65 124.68L424.00 124.63L424.35 124.58L424.70 124.52L425.05 124.47L425.40 124.42L425.75 124.37L426.10 124.32L426.45 124.27L426.80 124.22L427.15 124.18L427.50 124.13L427.85 124.08L428.20 124.03L428.55 123.99L428.90 123.94L429.25 123.90L429.60 123.85L429.95 123.81L430.30 123.77L430.65 123.72L431.00 123.68L431.35 123.64L431.70 123.60L432.05 123.56L432.40 123.52L432.75 123.48L433.10 123.44L433.45 123.40L433.80 123.36L434.15 123.32L434.50 123.28L434.85 123.25L435.20 123.21L435.55 123.17L435.90 123.14L436.25 123.10L436.60 123.07L436.95 123.03L437.30 123.00L437.65 122.97L438.00 122.93L438.35 122.90L438.70 122.87L439.05 122.84L439.40 122.80L439.75 122.77L440.10 122.74L440.45 122.71L440.80 122.68L441.15 122.65L441.50 122.62L441.85 122.60L442.20 122.57L442.55 122.54L442.90 122.51L443.25 122.49L443.60 122.46L443.95 122.43L444.30 122.41L444.65 122.38L445.00 122.36L445.35 122.33L445.70 122.31L446.05 122.29L446.40 122.26L446.75 122.24L447.10 122.22L447.45 122.20L447.80 122.17L448.15 122.15L448.50 122.13L448.85 122.11L449.20 122.09L449.55 122.07L449.90 122.05L450.25 122.03L450.60 122.01L450.95 122.00L451.30 121.98L451.65 121.96L452.00 121.94L452.35 121.93L452.70 121.91L453.05 121.89L453.40 121.88L453.75 121.86L454.10 121.85L454.45 121.83L454.80 121.82L455.15 121.80L455.50 121.79L455.85 121.78L456.20 121.76L456.55 121.75L456.90 121.74L457.25 121.73L457.60 121.71L457.95 121.70L458.30 121.69L458.65 121.68L459.00 121.67L459.35 121.66L459.70 121.65L460.05 121.64L460.40 121.63L460.75 121.63L461.10 121.62L461.45 121.61L461.80 121.60L462.15 121.60L462.50 121.59L462.85 121.58L463.20 121.58L463.55 121.57L463.90 121.57L464.25 121.56L464.60 121.56L464.95 121.55L465.30 121.55L465.65 121.54L466.00 121.54L466.35 121.54L466.70 121.53L467.05 121.53L467.40 121.53L467.75 121.53L468.10 121.53L468.45 121.53L468.80 121.53L469.15 121.53L469.50 121.53L469.85 121.53L470.20 121.53L470.55 121.53L470.90 121.53L471.25 121.53L471.60 121.53L471.95 121.54L472.30 121.54L472.65 121.54L473.00 121.54L473.35 121.55L473.70 121.55L474.05 121.56L474.40 121.56L474.75 121.57L475.10 121.57L475.45 121.58L475.80 121.58L476.15 121.59L476.50 121.60L476.85 121.60L477.20 121.61L477.55 121.62L477.90 121.63L478.25 121.64L478.60 121.64L478.95 121.65L479.30 121.66L479.65 121.67L480.00 121.68L480.35 121.69L480.70 121.71L481.05 121.72L481.40 121.73L481.75 121.74L482.10 121.75L482.45 121.76L482.80 121.78L483.15 121.79L483.50 121.81L483.85 121.82L484.20 121.83L484.55 121.85L484.90 121.86L485.25 121.88L485.60 121.89L485.95 121.91L486.30 121.93L486.65 121.94L487.00 121.96"/>
<path stroke="#0000ff" d="M91.50 313.17L91.85 276.64L92.20 255.25L92.55 242.36L92.90 233.25L93.25 226.26L93.60 220.62L93.95 215.92L94.30 211.90L94.65 208.40L95.00 205.32L95.35 202.57L95.70 200.10L96.05 197.86L96.40 195.82L96.75 193.95L97.10 192.22L97.45 190.62L97.80 189.13L98.15 187.75L98.50 186.46L98.85 185.24L99.20 184.11L99.55 183.04L99.90 182.03L100.25 181.07L100.60 180.17L100.95 179.31L101.30 178.50L101.65 177.73L102.00 177.00L102.35 176.30L102.70 175.63L103.05 175.00L103.40 174.40L103.75 173.82L104.10 173.26L104.45 172.74L104.80 172.23L105.15 171.75L105.50 171.28L105.85 170.84L106.20 170.41L106.55 170.00L106.90 169.61L107.25 169.23L107.60 168.87L107.95 168.53L108.30 168.19L108.65 167.87L109.00 167.57L109.35 167.27L109.70 166.99L110.05 166.72L110.40 166.46L110.75 166.21L111.10 165.97L111.45 165.74L111.80 165.52L112.15 165.31L112.50 165.10L112.85 164.91L113.20 164.72L113.55 164.55L113.90 164.38L114.25 164.22L114.60 164.06L114.95 163.92L115.30 163.78L115.65 163.64L116.00 163.52L116.35 163.40L116.70 163.29L117.05 163.18L117.40 163.08L117.75 162.99L118.10 162.90L118.45 162.82L118.80 162.74L119.15 162.67L119.50 162.61L119.85 162.55L120.20 162.50L120.55 162.45L120.90 162.41L121.25 162.37L121.60 162.34L121.95 162.32L122.30 162.30L122.65 162.29L123.00 162.28L123.35 162.27L123.70 162.28L124.05 162.28L124.40 162.30L124.75 162.31L125.10 162.34L125.45 162.37L125.80 162.40L126.15 162.44L126.50 162.49L126.85 162.54L127.20 162.59L127.55 162.65L127.90 162.72L128.25 162.80L128.60 162.88L128.95 162.96L129.30 163.05L129.65 163.15L130.00 163.26L130.35 163.37L130.70 163.48L131.05 163.61L131.40 163.74L131.75 163.88L132.10 164.02L132.45 164.17L132.80 164.33L133.15 164.50L133.50 164.67L133.85 164.86L134.20 165.05L134.55 165.25L134.90 165.46L135.25 165.67L135.60 165.90L135.95 166.14L136.30 166.39L136.65 166.64L137.00 166.91L137.35 167.19L137.70 167.48L138.05 167.79L138.40 168.10L138.75 168.43L139.10 168.77L139.45 169.13L139.80 169.50L140.15 169.89L140.50 170.29L140.85 170.72L141.20 171.15L141.55 171.61L141.90 172.09L142.25 172.59L142.60 173.11L142.95 173.66L143.30 174.23L143.65 174.83L144.00 175.45L144.35 176.11L144.70 176.80L145.05 177.52L145.40 178.28L145.75 179.08L146.10 179.92L146.45 180.81L146.80 181.75L147.15 182.75L147.50 183.80L147.85 184.92L148.20 186.11L148.55 187.38L148.90 188.74L149.25 190.19L149.60 191.76L149.95 193.45L150.30 195.28L150.65 197.28L151.00 199.46L151.35 201.87L151.70 204.53L152.05 207.52L152.40 210.89L152.75 214.75L153.10 219.26L153.45 224.62L153.80 231.21L154.15 239.69L154.50 251.44L154.85 270.36L155.20 320.61L155.30 335.45L155.55 290.53L155.90 261.48L156.25 246.46L156.60 236.36L156.95 228.79L157.30 222.78L157.65 217.81L158.00 213.59L158.35 209.94L158.70 206.74L159.05 203.89L159.40 201.33L159.75 199.02L160.10 196.92L160.45 194.99L160.80 193.21L161.15 191.57L161.50 190.04L161.85 188.62L162.20 187.30L162.55 186.05L162.90 184.89L163.25 183.79L163.60 182.76L163.95 181.78L164.30 180.86L164.65 179.98L165.00 179.15L165.35 178.36L165.70 177.61L166.05 176.90L166.40 176.22L166.75 175.57L167.10 174.95L167.45 174.35L167.80 173.79L168.15 173.25L168.50 172.73L168.85 172.23L169.20 171.76L169.55 171.30L169.90 170.86L170.25 170.44L170.60 170.04L170.95 169.65L171.30 169.28L171.65 168.93L172.00 168.58L172.35 168.25L172.70 167.94L173.05 167.63L173.40 167.34L173.75 167.06L174.10 166.79L174.45 166.53L174.80 166.29L175.15 166.05L175.50 165.82L175.85 165.60L176.20 165.39L176.55 165.19L176.90 164.99L177.25 164.81L177.60 164.63L177.95 164.46L178.30 164.30L178.65 164.14L179.00 163.99L179.35 163.85L179.70 163.72L180.05 163.59L180.40 163.47L180.75 163.36L181.10 163.25L181.45 163.15L181.80 163.05L182.15 162.96L182.50 162.88L182.85 162.80L183.20 162.73L183.55 162.66L183.90 162.60L184.25 162.54L184.60 162.49L184.95 162.45L185.30 162.41L185.65 162.37L186.00 162.34L186.35 162.32L186.70 162.30L187.05 162.29L187.40 162.28L187.75 162.27L188.10 162.28L188.45 162.28L188.80 162.29L189.15 162.31L189.50 162.33L189.85 162.36L190.20 162.40L190.55 162.43L190.90 162.48L191.25 162.53L191.60 162.58L191.95 162.64L192.30 162.71L192.65 162.78L193.00 162.85L193.35 162.94L193.70 163.02L194.05 163.12L194.40 163.22L194.75 163.33L195.10 163.44L195.45 163.56L195.80 163.68L196.15 163.81L196.50 163.95L196.85 164.10L197.20 164.25L197.55 164.41L197.90 164.58L198.25 164.76L198.60 164.94L198.95 165.13L199.30 165.33L199.65 165.54L200.00 165.75L200.35 165.98L200.70 166.22L201.05 166.46L201.40 166.72L201.75 166.98L202.10 167.26L202.45 167.55L202.80 167.85L203.15 168.16L203.50 168.49L203.85 168.83L204.20 169.18L204.55 169.55L204.90 169.93L205.25 170.33L205.60 170.74L205.95 171.17L206.30 171.62L206.65 172.09L207.00 172.58L207.35 173.10L207.70 173.63L208.05 174.19L208.40 174.78L208.75 175.39L209.10 176.03L209.45 176.70L209.80 177.40L210.15 178.14L210.50 178.92L210.85 179.74L211.20 180.60L211.55 181.51L211.90 182.47L212.25 183.49L212.60 184.57L212.95 185.71L213.30 186.93L213.65 188.23L214.00 189.63L214.35 191.12L214.70 192.73L215.05 194.46L215.40 196.35L215.75 198.40L216.10 200.65L216.45 203.13L216.80 205.89L217.15 208.99L217.50 212.50L217.85 216.53L218.20 221.27L218.55 226.94L218.90 233.99L219.25 243.22L219.60 256.41L219.95 279.31L220.30 335.45L220.30 335.45L220.65 277.77L221.00 254.91L221.35 241.74L221.70 232.55L222.05 225.53L222.40 219.89L222.75 215.19L223.10 211.18L223.45 207.70L223.80 204.64L224.15 201.91L224.50 199.46L224.85 197.23L225.20 195.21L225.55 193.35L225.90 191.64L226.25 190.06L226.60 188.60L226.95 187.23L227.30 185.96L227.65 184.76L228.00 183.64L228.35 182.59L228.70 181.60L229.05 180.66L229.40 179.78L229.75 178.94L230.10 178.15L230.45 177.39L230.80 176.68L231.15 176.00L231.50 175.35L231.85 174.73L232.20 174.14L232.55 173.58L232.90 173.04L233.25 172.53L233.60 172.04L233.95 171.57L234.30 171.13L234.65 170.70L235.00 170.29L235.35 169.89L235.70 169.52L236.05 169.16L236.40 168.81L236.75 168.48L237.10 168.16L237.45 167.86L237.80 167.57L238.15 167.29L238.50 167.02L238.85 166.77L239.20 166.52L239.55 166.29L239.90 166.07L240.25 165.85L240.60 165.65L240.95 165.45L241.30 165.27L241.65 165.09L242.00 164.92L242.35 164.76L242.70 164.61L243.05 164.46L243.40 164.33L243.75 164.20L244.10 164.08L244.45 163.96L244.80 163.85L245.15 163.75L245.50 163.66L245.85 163.57L246.20 163.49L246.55 163.42L246.90 163.35L247.25 163.29L247.60 163.23L247.95 163.18L248.30 163.14L248.65 163.10L249.00 163.07L249.35 163.05L249.70 163.03L250.05 163.01L250.40 163.01L250.75 163.00L251.10 163.01L251.45 163.02L251.80 163.04L252.15 163.06L252.50 163.08L252.85 163.12L253.20 163.16L253.55 163.20L253.90 163.25L254.25 163.31L254.60 163.37L254.95 163.44L255.30 163.51L255.65 163.60L256.00 163.68L256.35 163.78L256.70 163.88L257.05 163.99L257.40 164.10L257.75 164.22L258.10 164.35L258.45 164.49L258.80 164.63L259.15 164.78L259.50 164.94L259.85 165.11L260.20 165.28L260.55 165.46L260.90 165.66L261.25 165.86L261.60 166.07L261.95 166.29L262.30 166.52L262.65 166.76L263.00 167.01L263.35 167.28L263.70 167.55L264.05 167.84L264.40 168.14L264.75 168.45L265.10 168.77L265.45 169.11L265.80 169.47L266.15 169.84L266.50 170.22L266.85 170.63L267.20 171.05L267.55 171.49L267.90 171.95L268.25 172.43L268.60 172.93L268.95 173.45L269.30 174.00L269.65 174.58L270.00 175.18L270.35 175.82L270.70 176.48L271.05 177.18L271.40 177.91L271.75 178.68L272.10 179.50L272.45 180.35L272.80 181.26L273.15 182.21L273.50 183.23L273.85 184.30L274.20 185.44L274.55 186.65L274.90 187.94L275.25 189.32L275.60 190.79L275.95 192.37L276.30 194.07L276.65 195.90L277.00 197.87L277.35 200.01L277.70 202.32L278.05 204.84L278.40 207.56L278.75 210.51L279.10 213.68L279.45 217.02L279.80 220.42L280.15 223.66L280.50 226.32L280.85 227.84L281.00 228.00L281.20 227.73L281.55 226.13L281.90 223.51L282.25 220.38L282.60 217.09L282.95 213.86L283.30 210.79L283.65 207.91L284.00 205.25L284.35 202.78L284.70 200.50L285.05 198.39L285.40 196.43L285.75 194.62L286.10 192.93L286.45 191.35L286.80 189.88L287.15 188.50L287.50 187.21L287.85 185.99L288.20 184.84L288.55 183.76L288.90 182.74L289.25 181.77L289.60 180.86L289.95 179.99L290.30 179.17L290.65 178.38L291.00 177.63L291.35 176.92L291.70 176.25L292.05 175.60L292.40 174.98L292.75 174.39L293.10 173.83L293.45 173.29L293.80 172.77L294.15 172.27L294.50 171.80L294.85 171.34L295.20 170.91L295.55 170.49L295.90 170.09L296.25 169.70L296.60 169.33L296.95 168.98L297.30 168.63L297.65 168.31L298.00 167.99L298.35 167.69L298.70 167.40L299.05 167.12L299.40 166.85L299.75 166.59L300.10 166.35L300.45 166.11L300.80 165.88L301.15 165.66L301.50 165.45L301.85 165.25L302.20 165.06L302.55 164.88L302.90 164.70L303.25 164.53L303.60 164.37L303.95 164.22L304.30 164.07L304.65 163.93L305.00 163.80L305.35 163.67L305.70 163.55L306.05 163.44L306.40 163.33L306.75 163.23L307.10 163.13L307.45 163.04L307.80 162.96L308.15 162.88L308.50 162.81L308.85 162.74L309.20 162.68L309.55 162.62L309.90 162.57L310.25 162.53L310.60 162.49L310.95 162.45L311.30 162.43L311.65 162.40L312.00 162.38L312.35 162.37L312.70 162.36L313.05 162.35L313.40 162.36L313.75 162.36L314.10 162.37L314.45 162.39L314.80 162.41L315.15 162.44L315.50 162.47L315.85 162.51L316.20 162.55L316.55 162.60L316.90 162.65L317.25 162.71L317.60 162.77L317.95 162.84L318.30 162.91L318.65 162.99L319.00 163.08L319.35 163.17L319.70 163.27L320.05 163.37L320.40 163.48L320.75 163.60L321.10 163.72L321.45 163.85L321.80 163.99L322.15 164.13L322.50 164.28L322.85 164.44L323.20 164.60L323.55 164.77L323.90 164.95L324.25 165.14L324.60 165.34L324.95 165.54L325.30 165.76L325.65 165.98L326.00 166.21L326.35 166.45L326.70 166.70L327.05 166.96L327.40 167.24L327.75 167.52L328.10 167.82L328.45 168.12L328.80 168.45L329.15 168.78L329.50 169.13L329.85 169.49L330.20 169.86L330.55 170.26L330.90 170.67L331.25 171.09L331.60 171.54L331.95 172.00L332.30 172.48L332.65 172.99L333.00 173.51L333.35 174.06L333.70 174.64L334.05 175.24L334.40 175.87L334.75 176.53L335.10 177.22L335.45 177.95L335.80 178.71L336.15 179.51L336.50 180.36L336.85 181.25L337.20 182.18L337.55 183.17L337.90 184.22L338.25 185.33L338.60 186.50L338.95 187.75L339.30 189.08L339.65 190.50L340.00 192.01L340.35 193.64L340.70 195.38L341.05 197.25L341.40 199.27L341.75 201.45L342.10 203.81L342.45 206.36L342.80 209.12L343.15 212.08L343.50 215.23L343.85 218.50L344.20 221.76L344.55 224.72L344.90 226.97L345.25 227.98L345.30 228.00L345.60 227.35L345.95 225.23L346.30 222.22L346.65 218.84L347.00 215.41L347.35 212.13L347.70 209.04L348.05 206.19L348.40 203.56L348.75 201.14L349.10 198.91L349.45 196.86L349.80 194.96L350.15 193.20L350.50 191.56L350.85 190.04L351.20 188.62L351.55 187.29L351.90 186.05L352.25 184.88L352.60 183.78L352.95 182.75L353.30 181.77L353.65 180.85L354.00 179.98L354.35 179.16L354.70 178.37L355.05 177.63L355.40 176.92L355.75 176.25L356.10 175.61L356.45 175.01L356.80 174.43L357.15 173.87L357.50 173.34L357.85 172.84L358.20 172.36L358.55 171.90L358.90 171.46L359.25 171.04L359.60 170.64L359.95 170.25L360.30 169.89L360.65 169.53L361.00 169.20L361.35 168.88L361.70 168.57L362.05 168.27L362.40 167.99L362.75 167.72L363.10 167.46L363.45 167.22L363.80 166.98L364.15 166.75L364.50 166.54L364.85 166.33L365.20 166.14L365.55 165.95L365.90 165.78L366.25 165.61L366.60 165.45L366.95 165.30L367.30 165.15L367.65 165.02L368.00 164.89L368.35 164.77L368.70 164.66L369.05 164.55L369.40 164.45L369.75 164.36L370.10 164.27L370.45 164.20L370.80 164.12L371.15 164.06L371.50 164.00L371.85 163.95L372.20 163.90L372.55 163.86L372.90 163.83L373.25 163.80L373.60 163.78L373.95 163.76L374.30 163.75L374.65 163.75L375.00 163.75L375.35 163.76L375.70 163.78L376.05 163.80L376.40 163.83L376.75 163.87L377.10 163.91L377.45 163.96L377.80 164.01L378.15 164.07L378.50 164.14L378.85 164.21L379.20 164.30L379.55 164.38L379.90 164.48L380.25 164.58L380.60 164.69L380.95 164.81L381.30 164.94L381.65 165.07L382.00 165.21L382.35 165.36L382.70 165.52L383.05 165.69L383.40 165.86L383.75 166.05L384.10 166.24L384.45 166.44L384.80 166.66L385.15 166.88L385.50 167.12L385.85 167.36L386.20 167.62L386.55 167.89L386.90 168.17L387.25 168.46L387.60 168.77L387.95 169.09L388.30 169.43L388.65 169.78L389.00 170.15L389.35 170.53L389.70 170.93L390.05 171.35L390.40 171.79L390.75 172.25L391.10 172.73L391.45 173.24L391.80 173.77L392.15 174.32L392.50 174.90L392.85 175.51L393.20 176.15L393.55 176.83L393.90 177.54L394.25 178.28L394.60 179.07L394.95 179.90L395.30 180.78L395.65 181.71L396.00 182.70L396.35 183.75L396.70 184.87L397.05 186.06L397.40 187.33L397.75 188.70L398.10 190.17L398.45 191.75L398.80 193.46L399.15 195.33L399.50 197.36L399.85 199.60L400.20 202.08L400.55 204.83L400.90 207.94L401.25 211.47L401.60 215.55L401.95 220.35L402.30 226.14L402.65 233.39L403.00 242.98L403.35 256.98L403.70 282.53L404.00 335.45L404.05 335.45L404.40 273.82L404.75 253.15L405.10 240.76L405.45 231.97L405.80 225.20L406.15 219.72L406.50 215.15L406.85 211.24L407.20 207.84L407.55 204.84L407.90 202.16L408.25 199.76L408.60 197.58L408.95 195.59L409.30 193.77L409.65 192.10L410.00 190.54L410.35 189.10L410.70 187.76L411.05 186.51L411.40 185.34L411.75 184.24L412.10 183.21L412.45 182.24L412.80 181.32L413.15 180.45L413.50 179.63L413.85 178.85L414.20 178.11L414.55 177.41L414.90 176.75L415.25 176.11L415.60 175.51L415.95 174.94L416.30 174.39L416.65 173.86L417.00 173.37L417.35 172.89L417.70 172.43L418.05 172.00L418.40 171.58L418.75 171.18L419.10 170.80L419.45 170.44L419.80 170.09L420.15 169.76L420.50 169.44L420.85 169.13L421.20 168.84L421.55 168.56L421.90 168.29L422.25 168.04L422.60 167.79L422.95 167.56L423.30 167.34L423.65 167.12L424.00 166.92L424.35 166.73L424.70 166.54L425.05 166.37L425.40 166.20L425.75 166.04L426.10 165.90L426.45 165.75L426.80 165.62L427.15 165.50L427.50 165.38L427.85 165.27L428.20 165.17L428.55 165.07L428.90 164.98L429.25 164.90L429.60 164.82L429.95 164.76L430.30 164.69L430.65 164.64L431.00 164.59L431.35 164.55L431.70 164.51L432.05 164.48L432.40 164.46L432.75 164.44L433.10 164.43L433.45 164.43L433.80 164.43L434.15 164.44L434.50 164.46L434.85 164.48L435.20 164.50L435.55 164.54L435.90 164.58L436.25 164.62L436.60 164.68L436.95 164.74L437.30 164.80L437.65 164.87L438.00 164.95L438.35 165.04L438.70 165.13L439.05 165.23L439.40 165.34L439.75 165.46L440.10 165.58L440.45 165.71L440.80 165.85L441.15 165.99L441.50 166.15L441.85 166.31L442.20 166.48L442.55 166.66L442.90 166.85L443.25 167.05L443.60 167.26L443.95 167.48L444.30 167.70L444.65 167.94L445.00 168.20L445.35 168.46L445.70 168.73L446.05 169.02L446.40 169.32L446.75 169.63L447.10 169.96L447.45 170.30L447.80 170.66L448.15 171.03L448.50 171.43L448.85 171.83L449.20 172.26L449.55 172.71L449.90 173.18L450.25 173.67L450.60 174.18L450.95 174.72L451.30 175.28L451.65 175.87L452.00 176.49L452.35 177.14L452.70 177.83L453.05 178.55L453.40 179.31L453.75 180.11L454.10 180.96L454.45 181.85L454.80 182.80L455.15 183.80L455.50 184.87L455.85 186.01L456.20 187.22L456.55 188.52L456.90 189.91L457.25 191.40L457.60 193.02L457.95 194.76L458.30 196.66L458.65 198.74L459.00 201.01L459.35 203.53L459.70 206.33L460.05 209.47L460.40 213.04L460.75 217.13L461.10 221.90L461.45 227.54L461.80 234.35L462.15 242.65L462.50 252.39L462.85 260.84L463.00 262.00L463.20 260.06L463.55 251.22L463.90 241.74L464.25 233.73L464.60 227.13L464.95 221.64L465.30 216.98L465.65 212.97L466.00 209.47L466.35 206.38L466.70 203.62L467.05 201.13L467.40 198.88L467.75 196.83L468.10 194.95L468.45 193.21L468.80 191.61L469.15 190.13L469.50 188.74L469.85 187.45L470.20 186.24L470.55 185.11L470.90 184.05L471.25 183.04L471.60 182.10L471.95 181.20L472.30 180.36L472.65 179.56L473.00 178.80L473.35 178.07L473.70 177.39L474.05 176.74L474.40 176.11L474.75 175.52L475.10 174.96L475.45 174.42L475.80 173.90L476.15 173.41L476.50 172.94L476.85 172.49L477.20 172.06L477.55 171.65L477.90 171.25L478.25 170.88L478.60 170.52L478.95 170.17L479.30 169.84L479.65 169.52L480.00 169.22L480.35 168.93L480.70 168.65L481.05 168.38L481.40 168.13L481.75 167.88L482.10 167.65L482.45 167.43L482.80 167.21L483.15 167.01L483.50 166.82L483.85 166.63L484.20 166.46L484.55 166.29L484.90 166.13L485.25 165.98L485.60 165.84L485.95 165.70L486.30 165.57L486.65 165.45L487.00 165.34"/>
<path stroke="#00ffff" d="M91.50 313.17L91.85 276.84L92.20 256.08L92.55 243.81L92.90 235.30L93.25 228.90L93.60 223.83L93.95 219.68L94.30 216.21L94.65 213.25L95.00 210.69L95.35 208.45L95.70 206.48L96.05 204.73L96.40 203.17L96.75 201.77L97.10 200.50L97.45 199.36L97.80 198.33L98.15 197.39L98.50 196.54L98.85 195.76L99.20 195.06L99.55 194.41L99.90 193.83L100.25 193.30L100.60 192.81L100.95 192.38L101.30 191.98L101.65 191.63L102.00 191.31L102.35 191.03L102.70 190.79L103.05 190.58L103.40 190.40L103.75 190.25L104.10 190.13L104.45 190.04L104.80 189.98L105.15 189.95L105.50 189.94L105.85 189.97L106.20 190.02L106.55 190.10L106.90 190.21L107.25 190.35L107.60 190.52L107.95 190.72L108.30 190.96L108.65 191.23L109.00 191.53L109.35 191.88L109.70 192.26L110.05 192.68L110.40 193.15L110.75 193.67L111.10 194.24L111.45 194.86L111.80 195.55L112.15 196.30L112.50 197.13L112.85 198.05L113.20 199.05L113.55 200.16L113.90 201.38L114.25 202.74L114.60 204.25L114.95 205.94L115.30 207.84L115.65 209.99L116.00 212.45L116.35 215.28L116.70 218.59L117.05 222.51L117.40 227.26L117.75 233.20L118.10 240.93L118.45 251.70L118.80 268.56L119.15 298.58L119.25 304.00L119.50 283.65L119.85 259.97L120.20 246.31L120.55 237.07L120.90 230.22L121.25 224.86L121.60 220.50L121.95 216.87L122.30 213.79L122.65 211.14L123.00 208.83L123.35 206.80L123.70 205.00L124.05 203.39L124.40 201.96L124.75 200.67L125.10 199.50L125.45 198.45L125.80 197.49L126.15 196.62L126.50 195.83L126.85 195.11L127.20 194.46L127.55 193.86L127.90 193.32L128.25 192.83L128.60 192.39L128.95 191.99L129.30 191.64L129.65 191.32L130.00 191.03L130.35 190.79L130.70 190.57L131.05 190.39L131.40 190.24L131.75 190.13L132.10 190.04L132.45 189.98L132.80 189.95L133.15 189.94L133.50 189.97L133.85 190.03L134.20 190.11L134.55 190.22L134.90 190.37L135.25 190.55L135.60 190.75L135.95 190.99L136.30 191.27L136.65 191.58L137.00 191.93L137.35 192.33L137.70 192.76L138.05 193.24L138.40 193.77L138.75 194.36L139.10 195.00L139.45 195.71L139.80 196.48L140.15 197.34L140.50 198.28L140.85 199.32L141.20 200.46L141.55 201.73L141.90 203.14L142.25 204.71L142.60 206.47L142.95 208.46L143.30 210.71L143.65 213.30L144.00 216.29L144.35 219.80L144.70 224.00L145.05 229.13L145.40 235.60L145.75 244.16L146.10 256.27L146.45 274.85L146.75 290.00L146.80 289.33L147.15 269.21L147.50 252.94L147.85 242.08L148.20 234.22L148.55 228.17L148.90 223.32L149.25 219.32L149.60 215.96L149.95 213.07L150.30 210.57L150.65 208.38L151.00 206.44L151.35 204.72L151.70 203.18L152.05 201.80L152.40 200.55L152.75 199.42L153.10 198.40L153.45 197.46L153.80 196.62L154.15 195.84L154.50 195.14L154.85 194.50L155.20 193.91L155.55 193.38L155.90 192.90L156.25 192.46L156.60 192.06L156.95 191.71L157.30 191.39L157.65 191.10L158.00 190.85L158.35 190.64L158.70 190.45L159.05 190.29L159.40 190.17L159.75 190.07L160.10 190.00L160.45 189.96L160.80 189.94L161.15 189.95L161.50 189.99L161.85 190.05L162.20 190.14L162.55 190.26L162.90 190.40L163.25 190.57L163.60 190.77L163.95 191.00L164.30 191.27L164.65 191.56L165.00 191.89L165.35 192.26L165.70 192.67L166.05 193.11L166.40 193.61L166.75 194.15L167.10 194.74L167.45 195.39L167.80 196.11L168.15 196.89L168.50 197.75L168.85 198.69L169.20 199.73L169.55 200.87L169.90 202.12L170.25 203.52L170.60 205.06L170.95 206.78L171.30 208.71L171.65 210.88L172.00 213.32L172.35 216.11L172.70 219.28L173.05 222.92L173.40 227.09L173.75 231.80L174.10 236.87L174.45 241.60L174.80 244.30L174.88 244.40L175.15 243.11L175.50 238.92L175.85 233.80L176.20 228.87L176.55 224.45L176.90 220.59L177.25 217.23L177.60 214.30L177.95 211.73L178.30 209.46L178.65 207.45L179.00 205.66L179.35 204.06L179.70 202.62L180.05 201.32L180.40 200.15L180.75 199.09L181.10 198.12L181.45 197.25L181.80 196.45L182.15 195.72L182.50 195.06L182.85 194.46L183.20 193.91L183.55 193.41L183.90 192.96L184.25 192.55L184.60 192.19L184.95 191.86L185.30 191.56L185.65 191.30L186.00 191.08L186.35 190.88L186.70 190.72L187.05 190.58L187.40 190.47L187.75 190.39L188.10 190.34L188.45 190.31L188.80 190.31L189.15 190.34L189.50 190.40L189.85 190.48L190.20 190.60L190.55 190.75L190.90 190.92L191.25 191.13L191.60 191.38L191.95 191.66L192.30 191.97L192.65 192.32L193.00 192.72L193.35 193.15L193.70 193.64L194.05 194.17L194.40 194.76L194.75 195.41L195.10 196.12L195.45 196.90L195.80 197.76L196.15 198.70L196.50 199.74L196.85 200.89L197.20 202.17L197.55 203.58L197.90 205.17L198.25 206.94L198.60 208.94L198.95 211.20L199.30 213.81L199.65 216.82L200.00 220.35L200.35 224.58L200.70 229.74L201.05 236.25L201.40 244.82L201.75 256.82L202.10 274.23L202.38 285.00L202.45 283.86L202.80 265.93L203.15 250.99L203.50 240.70L203.85 233.15L204.20 227.31L204.55 222.61L204.90 218.72L205.25 215.45L205.60 212.64L205.95 210.21L206.30 208.08L206.65 206.21L207.00 204.54L207.35 203.05L207.70 201.72L208.05 200.51L208.40 199.43L208.75 198.45L209.10 197.56L209.45 196.75L209.80 196.02L210.15 195.35L210.50 194.75L210.85 194.20L211.20 193.70L211.55 193.26L211.90 192.86L212.25 192.50L212.60 192.18L212.95 191.90L213.30 191.66L213.65 191.45L214.00 191.27L214.35 191.13L214.70 191.02L215.05 190.94L215.40 190.89L215.75 190.87L216.10 190.88L216.45 190.92L216.80 190.99L217.15 191.09L217.50 191.22L217.85 191.38L218.20 191.58L218.55 191.81L218.90 192.08L219.25 192.38L219.60 192.73L219.95 193.11L220.30 193.54L220.65 194.02L221.00 194.54L221.35 195.13L221.70 195.77L222.05 196.48L222.40 197.26L222.75 198.12L223.10 199.07L223.45 200.11L223.80 201.27L224.15 202.56L224.50 203.99L224.85 205.59L225.20 207.39L225.55 209.42L225.90 211.74L226.25 214.40L226.60 217.49L226.95 221.14L227.30 225.52L227.65 230.90L228.00 237.76L228.35 246.91L228.70 259.91L229.05 278.32L229.25 285.00L229.40 281.21L229.75 263.29L230.10 249.72L230.45 240.17L230.80 233.04L231.15 227.45L231.50 222.91L231.85 219.14L232.20 215.94L232.55 213.18L232.90 210.79L233.25 208.68L233.60 206.82L233.95 205.16L234.30 203.67L234.65 202.33L235.00 201.12L235.35 200.02L235.70 199.03L236.05 198.12L236.40 197.30L236.75 196.55L237.10 195.87L237.45 195.24L237.80 194.67L238.15 194.16L238.50 193.69L238.85 193.26L239.20 192.88L239.55 192.53L239.90 192.22L240.25 191.95L240.60 191.71L240.95 191.50L241.30 191.32L241.65 191.18L242.00 191.06L242.35 190.97L242.70 190.91L243.05 190.87L243.40 190.87L243.75 190.89L244.10 190.93L244.45 191.01L244.80 191.11L245.15 191.24L245.50 191.40L245.85 191.59L246.20 191.81L246.55 192.06L246.90 192.34L247.25 192.66L247.60 193.02L247.95 193.42L248.30 193.85L248.65 194.34L249.00 194.87L249.35 195.45L249.70 196.09L250.05 196.79L250.40 197.56L250.75 198.41L251.10 199.33L251.45 200.35L251.80 201.48L252.15 202.72L252.50 204.09L252.85 205.62L253.20 207.32L253.55 209.24L253.90 211.40L254.25 213.86L254.60 216.68L254.95 219.95L255.30 223.79L255.65 228.35L256.00 233.88L256.35 240.65L256.70 248.87L257.05 257.68L257.38 262.00L257.40 261.97L257.75 256.51L258.10 247.61L258.45 239.59L258.80 233.02L259.15 227.65L259.50 223.20L259.85 219.45L260.20 216.25L260.55 213.49L260.90 211.08L261.25 208.95L261.60 207.07L261.95 205.39L262.30 203.89L262.65 202.53L263.00 201.31L263.35 200.20L263.70 199.20L264.05 198.28L264.40 197.45L264.75 196.69L265.10 196.00L265.45 195.36L265.80 194.79L266.15 194.26L266.50 193.79L266.85 193.36L267.20 192.97L267.55 192.61L267.90 192.30L268.25 192.02L268.60 191.77L268.95 191.56L269.30 191.37L269.65 191.22L270.00 191.09L270.35 191.00L270.70 190.92L271.05 190.88L271.40 190.87L271.75 190.88L272.10 190.91L272.45 190.98L272.80 191.07L273.15 191.19L273.50 191.34L273.85 191.52L274.20 191.73L274.55 191.97L274.90 192.24L275.25 192.55L275.60 192.90L275.95 193.28L276.30 193.70L276.65 194.17L277.00 194.69L277.35 195.26L277.70 195.88L278.05 196.56L278.40 197.31L278.75 198.13L279.10 199.03L279.45 200.02L279.80 201.11L280.15 202.31L280.50 203.65L280.85 205.13L281.20 206.78L281.55 208.62L281.90 210.71L282.25 213.08L282.60 215.79L282.95 218.92L283.30 222.59L283.65 226.95L284.00 232.23L284.35 238.74L284.70 246.85L285.05 256.52L285.40 264.43L285.50 265.00L285.75 261.66L286.10 251.87L286.45 242.65L286.80 235.22L287.15 229.27L287.50 224.42L287.85 220.38L288.20 216.97L288.55 214.04L288.90 211.50L289.25 209.28L289.60 207.32L289.95 205.57L290.30 204.02L290.65 202.62L291.00 201.36L291.35 200.22L291.70 199.19L292.05 198.26L292.40 197.41L292.75 196.63L293.10 195.93L293.45 195.29L293.80 194.71L294.15 194.18L294.50 193.70L294.85 193.27L295.20 192.88L295.55 192.52L295.90 192.21L296.25 191.94L296.60 191.69L296.95 191.49L297.30 191.31L297.65 191.16L298.00 191.05L298.35 190.96L298.70 190.90L299.05 190.87L299.40 190.87L299.75 190.89L300.10 190.95L300.45 191.03L300.80 191.15L301.15 191.29L301.50 191.47L301.85 191.68L302.20 191.92L302.55 192.19L302.90 192.50L303.25 192.86L303.60 193.25L303.95 193.68L304.30 194.16L304.65 194.69L305.00 195.27L305.35 195.92L305.70 196.62L306.05 197.40L306.40 198.25L306.75 199.19L307.10 200.22L307.45 201.37L307.80 202.63L308.15 204.04L308.50 205.61L308.85 207.36L309.20 209.35L309.55 211.60L309.90 214.17L310.25 217.15L310.60 220.65L310.95 224.82L311.30 229.91L311.65 236.31L312.00 244.71L312.35 256.44L312.70 273.59L313.00 286.00L313.05 285.46L313.40 267.70L313.75 252.15L314.10 241.53L314.45 233.78L314.80 227.80L315.15 223.00L315.50 219.04L315.85 215.70L316.20 212.85L316.55 210.37L316.90 208.20L317.25 206.29L317.60 204.59L317.95 203.07L318.30 201.70L318.65 200.47L319.00 199.36L319.35 198.36L319.70 197.44L320.05 196.61L320.40 195.86L320.75 195.17L321.10 194.54L321.45 193.98L321.80 193.46L322.15 192.99L322.50 192.57L322.85 192.19L323.20 191.85L323.55 191.55L323.90 191.29L324.25 191.06L324.60 190.86L324.95 190.69L325.30 190.56L325.65 190.45L326.00 190.37L326.35 190.33L326.70 190.31L327.05 190.32L327.40 190.36L327.75 190.42L328.10 190.52L328.45 190.65L328.80 190.81L329.15 191.00L329.50 191.22L329.85 191.47L330.20 191.76L330.55 192.09L330.90 192.46L331.25 192.87L331.60 193.32L331.95 193.82L332.30 194.38L332.65 194.98L333.00 195.65L333.35 196.39L333.70 197.19L334.05 198.08L334.40 199.06L334.75 200.14L335.10 201.33L335.45 202.66L335.80 204.13L336.15 205.77L336.50 207.62L336.85 209.71L337.20 212.09L337.55 214.83L337.90 218.01L338.25 221.77L338.60 226.30L338.95 231.88L339.30 239.02L339.65 248.61L340.00 262.35L340.35 280.93L340.50 285.00L340.70 278.45L341.05 260.17L341.40 247.14L341.75 237.94L342.10 231.02L342.45 225.57L342.80 221.13L343.15 217.42L343.50 214.27L343.85 211.55L344.20 209.18L344.55 207.09L344.90 205.24L345.25 203.58L345.60 202.10L345.95 200.76L346.30 199.55L346.65 198.46L347.00 197.46L347.35 196.55L347.70 195.72L348.05 194.97L348.40 194.28L348.75 193.64L349.10 193.07L349.45 192.54L349.80 192.06L350.15 191.63L350.50 191.23L350.85 190.88L351.20 190.56L351.55 190.27L351.90 190.02L352.25 189.80L352.60 189.60L352.95 189.44L353.30 189.31L353.65 189.20L354.00 189.12L354.35 189.07L354.70 189.04L355.05 189.04L355.40 189.07L355.75 189.12L356.10 189.20L356.45 189.30L356.80 189.42L357.15 189.58L357.50 189.76L357.85 189.97L358.20 190.22L358.55 190.49L358.90 190.80L359.25 191.14L359.60 191.51L359.95 191.93L360.30 192.39L360.65 192.89L361.00 193.44L361.35 194.05L361.70 194.71L362.05 195.43L362.40 196.22L362.75 197.09L363.10 198.04L363.45 199.08L363.80 200.23L364.15 201.49L364.50 202.89L364.85 204.44L365.20 206.17L365.55 208.10L365.90 210.28L366.25 212.75L366.60 215.56L366.95 218.80L367.30 222.54L367.65 226.92L368.00 232.02L368.35 237.88L368.70 244.10L369.05 249.03L369.25 250.00L369.40 249.45L369.75 245.03L370.10 238.92L370.45 233.00L370.80 227.80L371.15 223.33L371.50 219.49L371.85 216.18L372.20 213.30L372.55 210.77L372.90 208.54L373.25 206.56L373.60 204.79L373.95 203.20L374.30 201.76L374.65 200.47L375.00 199.29L375.35 198.22L375.70 197.24L376.05 196.35L376.40 195.53L376.75 194.79L377.10 194.10L377.45 193.48L377.80 192.90L378.15 192.38L378.50 191.90L378.85 191.46L379.20 191.06L379.55 190.70L379.90 190.38L380.25 190.08L380.60 189.82L380.95 189.59L381.30 189.39L381.65 189.21L382.00 189.06L382.35 188.94L382.70 188.84L383.05 188.76L383.40 188.72L383.75 188.69L384.10 188.69L384.45 188.71L384.80 188.76L385.15 188.84L385.50 188.94L385.85 189.06L386.20 189.21L386.55 189.39L386.90 189.60L387.25 189.84L387.60 190.11L387.95 190.41L388.30 190.74L388.65 191.11L389.00 191.52L389.35 191.96L389.70 192.45L390.05 192.99L390.40 193.58L390.75 194.22L391.10 194.92L391.45 195.68L391.80 196.52L392.15 197.43L392.50 198.44L392.85 199.54L393.20 200.75L393.55 202.09L393.90 203.57L394.25 205.21L394.60 207.06L394.95 209.13L395.30 211.47L395.65 214.14L396.00 217.22L396.35 220.82L396.70 225.08L397.05 230.20L397.40 236.50L397.75 244.37L398.10 254.01L398.45 263.26L398.62 265.00L398.80 263.27L399.15 254.08L399.50 244.47L399.85 236.59L400.20 230.28L400.55 225.14L400.90 220.87L401.25 217.26L401.60 214.16L401.95 211.47L402.30 209.11L402.65 207.02L403.00 205.16L403.35 203.50L403.70 202.00L404.05 200.65L404.40 199.42L404.75 198.31L405.10 197.29L405.45 196.36L405.80 195.51L406.15 194.73L406.50 194.02L406.85 193.36L407.20 192.76L407.55 192.21L407.90 191.71L408.25 191.25L408.60 190.82L408.95 190.44L409.30 190.09L409.65 189.78L410.00 189.49L410.35 189.24L410.70 189.02L411.05 188.82L411.40 188.65L411.75 188.51L412.10 188.39L412.45 188.30L412.80 188.23L413.15 188.19L413.50 188.17L413.85 188.17L414.20 188.20L414.55 188.25L414.90 188.32L415.25 188.42L415.60 188.55L415.95 188.70L416.30 188.88L416.65 189.08L417.00 189.31L417.35 189.58L417.70 189.87L418.05 190.19L418.40 190.55L418.75 190.95L419.10 191.38L419.45 191.86L419.80 192.38L420.15 192.94L420.50 193.56L420.85 194.24L421.20 194.97L421.55 195.77L421.90 196.65L422.25 197.60L422.60 198.65L422.95 199.80L423.30 201.07L423.65 202.47L424.00 204.02L424.35 205.74L424.70 207.67L425.05 209.84L425.40 212.31L425.75 215.13L426.10 218.39L426.45 222.22L426.80 226.78L427.15 232.33L427.50 239.25L427.85 248.02L428.20 258.79L428.55 267.60L428.62 268.00L428.90 263.47L429.25 252.56L429.60 242.86L429.95 235.19L430.30 229.07L430.65 224.09L431.00 219.93L431.35 216.40L431.70 213.36L432.05 210.72L432.40 208.39L432.75 206.32L433.10 204.48L433.45 202.82L433.80 201.33L434.15 199.97L434.50 198.74L434.85 197.62L435.20 196.59L435.55 195.65L435.90 194.78L436.25 193.99L436.60 193.26L436.95 192.58L437.30 191.96L437.65 191.39L438.00 190.87L438.35 190.38L438.70 189.94L439.05 189.53L439.40 189.16L439.75 188.82L440.10 188.51L440.45 188.23L440.80 187.98L441.15 187.75L441.50 187.56L441.85 187.38L442.20 187.23L442.55 187.10L442.90 187.00L443.25 186.92L443.60 186.86L443.95 186.82L444.30 186.81L444.65 186.81L445.00 186.84L445.35 186.89L445.70 186.96L446.05 187.05L446.40 187.16L446.75 187.29L447.10 187.45L447.45 187.63L447.80 187.84L448.15 188.07L448.50 188.32L448.85 188.61L449.20 188.92L449.55 189.26L449.90 189.64L450.25 190.05L450.60 190.50L450.95 190.99L451.30 191.51L451.65 192.09L452.00 192.71L452.35 193.39L452.70 194.12L453.05 194.92L453.40 195.79L453.75 196.73L454.10 197.76L454.45 198.88L454.80 200.12L455.15 201.47L455.50 202.96L455.85 204.61L456.20 206.43L456.55 208.47L456.90 210.76L457.25 213.33L457.60 216.25L457.95 219.57L458.30 223.38L458.65 227.74L459.00 232.68L459.35 238.02L459.70 243.02L460.05 245.89L460.12 246.00L460.40 244.72L460.75 240.53L461.10 235.36L461.45 230.32L461.80 225.78L462.15 221.79L462.50 218.29L462.85 215.23L463.20 212.53L463.55 210.13L463.90 208.00L464.25 206.08L464.60 204.36L464.95 202.80L465.30 201.39L465.65 200.11L466.00 198.93L466.35 197.86L466.70 196.87L467.05 195.97L467.40 195.14L467.75 194.37L468.10 193.67L468.45 193.02L468.80 192.42L469.15 191.86L469.50 191.35L469.85 190.88L470.20 190.45L470.55 190.05L470.90 189.69L471.25 189.36L471.60 189.05L471.95 188.78L472.30 188.53L472.65 188.30L473.00 188.11L473.35 187.93L473.70 187.78L474.05 187.65L474.40 187.54L474.75 187.45L475.10 187.39L475.45 187.34L475.80 187.32L476.15 187.31L476.50 187.33L476.85 187.36L477.20 187.42L477.55 187.51L477.90 187.61L478.25 187.74L478.60 187.88L478.95 188.06L479.30 188.26L479.65 188.48L480.00 188.73L480.35 189.01L480.70 189.31L481.05 189.65L481.40 190.02L481.75 190.42L482.10 190.86L482.45 191.34L482.80 191.86L483.15 192.42L483.50 193.03L483.85 193.70L484.20 194.42L484.55 195.20L484.90 196.05L485.25 196.97L485.60 197.98L485.95 199.09L486.30 200.29L486.65 201.62L487.00 203.08"/>
<path stroke="#00ff00" d="M91.50 313.17L91.85 278.28L92.20 258.73L92.55 247.55L92.90 240.06L93.25 234.61L93.60 230.46L93.95 227.20L94.30 224.58L94.65 222.44L95.00 220.68L95.35 219.23L95.70 218.04L96.05 217.05L96.40 216.25L96.75 215.62L97.10 215.12L97.45 214.76L97.80 214.53L98.15 214.42L98.50 214.42L98.85 214.54L99.20 214.78L99.55 215.15L99.90 215.65L100.25 216.30L100.60 217.11L100.95 218.10L101.30 219.31L101.65 220.77L102.00 222.55L102.35 224.71L102.70 227.36L103.05 230.66L103.40 234.85L103.75 240.36L104.10 247.95L104.45 259.26L104.80 278.66L105.12 304.00L105.15 303.66L105.50 276.92L105.85 259.47L106.20 248.95L106.55 241.77L106.90 236.52L107.25 232.49L107.60 229.32L107.95 226.77L108.30 224.69L108.65 222.98L109.00 221.57L109.35 220.41L109.70 219.45L110.05 218.68L110.40 218.08L110.75 217.61L111.10 217.28L111.45 217.08L111.80 216.99L112.15 217.02L112.50 217.17L112.85 217.44L113.20 217.83L113.55 218.36L113.90 219.04L114.25 219.89L114.60 220.93L114.95 222.19L115.30 223.71L115.65 225.56L116.00 227.82L116.35 230.60L116.70 234.07L117.05 238.50L117.40 244.31L117.75 252.25L118.10 263.54L118.45 278.19L118.62 282.00L118.80 278.55L119.15 264.72L119.50 253.70L119.85 245.86L120.20 240.07L120.55 235.65L120.90 232.17L121.25 229.37L121.60 227.10L121.95 225.23L122.30 223.68L122.65 222.40L123.00 221.34L123.35 220.47L123.70 219.77L124.05 219.21L124.40 218.79L124.75 218.49L125.10 218.30L125.45 218.23L125.80 218.27L126.15 218.42L126.50 218.68L126.85 219.06L127.20 219.57L127.55 220.21L127.90 221.02L128.25 222.00L128.60 223.20L128.95 224.63L129.30 226.37L129.65 228.48L130.00 231.05L130.35 234.23L130.70 238.22L131.05 243.35L131.40 250.12L131.75 259.24L132.10 270.61L132.38 276.00L132.45 275.48L132.80 265.37L133.15 254.66L133.50 246.67L133.85 240.73L134.20 236.21L134.55 232.66L134.90 229.83L135.25 227.55L135.60 225.68L135.95 224.15L136.30 222.89L136.65 221.86L137.00 221.02L137.35 220.36L137.70 219.84L138.05 219.47L138.40 219.22L138.75 219.10L139.10 219.10L139.45 219.21L139.80 219.46L140.15 219.83L140.50 220.34L140.85 221.01L141.20 221.84L141.55 222.88L141.90 224.15L142.25 225.69L142.60 227.57L142.95 229.87L143.30 232.73L143.65 236.31L144.00 240.91L144.35 247.00L144.70 255.38L145.05 267.26L145.40 280.71L145.50 282.00L145.75 275.32L146.10 261.27L146.45 251.05L146.80 243.85L147.15 238.55L147.50 234.50L147.85 231.34L148.20 228.82L148.55 226.78L148.90 225.13L149.25 223.79L149.60 222.70L149.95 221.83L150.30 221.15L150.65 220.63L151.00 220.27L151.35 220.05L151.70 219.96L152.05 220.01L152.40 220.20L152.75 220.53L153.10 221.02L153.45 221.67L153.80 222.51L154.15 223.57L154.50 224.87L154.85 226.48L155.20 228.47L155.55 230.92L155.90 234.01L156.25 237.96L156.60 243.15L156.95 250.29L157.30 260.85L157.65 278.34L158.00 301.00L158.00 301.00L158.35 278.67L158.70 261.26L159.05 250.72L159.40 243.58L159.75 238.39L160.10 234.45L160.45 231.37L160.80 228.91L161.15 226.93L161.50 225.32L161.85 224.01L162.20 222.96L162.55 222.12L162.90 221.46L163.25 220.98L163.60 220.65L163.95 220.46L164.30 220.41L164.65 220.49L165.00 220.71L165.35 221.07L165.70 221.59L166.05 222.26L166.40 223.13L166.75 224.21L167.10 225.54L167.45 227.18L167.80 229.20L168.15 231.70L168.50 234.83L168.85 238.83L169.20 244.05L169.55 251.11L169.90 260.98L170.25 274.09L170.50 280.00L170.60 278.96L170.95 267.38L171.30 256.33L171.65 248.29L172.00 242.37L172.35 237.86L172.70 234.33L173.05 231.52L173.40 229.25L173.75 227.39L174.10 225.86L174.45 224.61L174.80 223.59L175.15 222.76L175.50 222.10L175.85 221.60L176.20 221.23L176.55 220.99L176.90 220.87L177.25 220.88L177.60 220.98L177.95 221.20L178.30 221.53L178.65 221.97L179.00 222.56L179.35 223.29L179.70 224.20L180.05 225.31L180.40 226.65L180.75 228.29L181.10 230.28L181.45 232.71L181.80 235.70L182.15 239.39L182.50 243.95L182.85 249.49L183.20 255.58L183.55 259.82L183.62 260.00L183.90 257.80L184.25 251.84L184.60 245.81L184.95 240.75L185.30 236.65L185.65 233.35L186.00 230.67L186.35 228.49L186.70 226.69L187.05 225.22L187.40 224.00L187.75 223.00L188.10 222.19L188.45 221.54L188.80 221.03L189.15 220.65L189.50 220.39L189.85 220.23L190.20 220.18L190.55 220.25L190.90 220.44L191.25 220.75L191.60 221.21L191.95 221.81L192.30 222.57L192.65 223.52L193.00 224.69L193.35 226.12L193.70 227.85L194.05 229.98L194.40 232.59L194.75 235.86L195.10 240.01L195.45 245.44L195.80 252.82L196.15 263.30L196.50 277.90L196.75 285.00L196.85 283.42L197.20 268.19L197.55 255.71L197.90 247.16L198.25 241.05L198.60 236.47L198.95 232.93L199.30 230.13L199.65 227.88L200.00 226.06L200.35 224.58L200.70 223.38L201.05 222.42L201.40 221.65L201.75 221.06L202.10 220.63L202.45 220.35L202.80 220.21L203.15 220.20L203.50 220.32L203.85 220.59L204.20 221.01L204.55 221.58L204.90 222.34L205.25 223.29L205.60 224.48L205.95 225.94L206.30 227.74L206.65 229.97L207.00 232.74L207.35 236.25L207.70 240.80L208.05 246.90L208.40 255.55L208.75 268.84L209.10 289.86L209.25 295.60L209.45 286.60L209.80 266.52L210.15 254.10L210.50 245.91L210.85 240.07L211.20 235.69L211.55 232.30L211.90 229.62L212.25 227.46L212.60 225.71L212.95 224.29L213.30 223.14L213.65 222.22L214.00 221.49L214.35 220.94L214.70 220.54L215.05 220.30L215.40 220.19L215.75 220.22L216.10 220.38L216.45 220.69L216.80 221.14L217.15 221.75L217.50 222.54L217.85 223.54L218.20 224.78L218.55 226.30L218.90 228.17L219.25 230.49L219.60 233.38L219.95 237.05L220.30 241.81L220.65 248.21L221.00 257.20L221.35 270.39L221.70 284.58L221.75 285.00L222.05 275.00L222.40 260.47L222.75 250.46L223.10 243.44L223.45 238.28L223.80 234.34L224.15 231.25L224.50 228.79L224.85 226.80L225.20 225.18L225.55 223.87L225.90 222.81L226.25 221.96L226.60 221.30L226.95 220.80L227.30 220.45L227.65 220.25L228.00 220.18L228.35 220.25L228.70 220.45L229.05 220.79L229.40 221.28L229.75 221.93L230.10 222.77L230.45 223.82L230.80 225.11L231.15 226.70L231.50 228.66L231.85 231.09L232.20 234.12L232.55 237.98L232.90 243.01L233.25 249.76L233.60 259.19L233.95 272.07L234.25 280.00L234.30 279.72L234.65 268.87L235.00 257.21L235.35 248.71L235.70 242.50L236.05 237.80L236.40 234.15L236.75 231.24L237.10 228.89L237.45 226.97L237.80 225.40L238.15 224.11L238.50 223.05L238.85 222.19L239.20 221.51L239.55 220.98L239.90 220.60L240.25 220.34L240.60 220.21L240.95 220.19L241.30 220.28L241.65 220.47L242.00 220.77L242.35 221.18L242.70 221.72L243.05 222.40L243.40 223.25L243.75 224.28L244.10 225.54L244.45 227.07L244.80 228.93L245.15 231.19L245.50 233.95L245.85 237.33L246.20 241.47L246.55 246.42L246.90 251.82L247.25 255.89L247.38 256.30L247.60 255.07L247.95 250.29L248.30 244.92L248.65 240.20L249.00 236.29L249.35 233.10L249.70 230.50L250.05 228.36L250.40 226.60L250.75 225.16L251.10 223.97L251.45 222.99L251.80 222.19L252.15 221.55L252.50 221.05L252.85 220.67L253.20 220.41L253.55 220.24L253.90 220.18L254.25 220.23L254.60 220.40L254.95 220.69L255.30 221.11L255.65 221.68L256.00 222.41L256.35 223.31L256.70 224.42L257.05 225.78L257.40 227.43L257.75 229.44L258.10 231.92L258.45 234.99L258.80 238.87L259.15 243.87L259.50 250.51L259.85 259.57L260.20 271.32L260.50 278.00L260.55 277.72L260.90 267.11L261.25 255.66L261.60 247.33L261.95 241.24L262.30 236.65L262.65 233.09L263.00 230.27L263.35 228.00L263.70 226.17L264.05 224.68L264.40 223.47L264.75 222.49L265.10 221.72L265.45 221.12L265.80 220.67L266.15 220.38L266.50 220.22L266.85 220.19L267.20 220.25L267.55 220.40L267.90 220.65L268.25 220.99L268.60 221.45L268.95 222.04L269.30 222.78L269.65 223.71L270.00 224.84L270.35 226.24L270.70 227.94L271.05 230.01L271.40 232.52L271.75 235.51L272.10 238.95L272.45 242.57L272.80 245.42L273.00 246.00L273.15 245.69L273.50 243.28L273.85 239.89L274.20 236.52L274.55 233.52L274.90 230.96L275.25 228.82L275.60 227.04L275.95 225.57L276.30 224.35L276.65 223.35L277.00 222.53L277.35 221.87L277.70 221.34L278.05 220.93L278.40 220.61L278.75 220.39L279.10 220.25L279.45 220.19L279.80 220.21L280.15 220.35L280.50 220.61L280.85 221.00L281.20 221.54L281.55 222.22L281.90 223.08L282.25 224.13L282.60 225.42L282.95 226.99L283.30 228.91L283.65 231.25L284.00 234.15L284.35 237.79L284.70 242.45L285.05 248.57L285.40 256.78L285.75 267.52L286.10 275.94L286.12 276.00L286.45 270.06L286.80 259.87L287.15 251.54L287.50 245.20L287.85 240.31L288.20 236.45L288.55 233.35L288.90 230.82L289.25 228.74L289.60 227.00L289.95 225.56L290.30 224.35L290.65 223.34L291.00 222.50L291.35 221.82L291.70 221.27L292.05 220.84L292.40 220.52L292.75 220.31L293.10 220.20L293.45 220.19L293.80 220.25L294.15 220.39L294.50 220.61L294.85 220.91L295.20 221.29L295.55 221.78L295.90 222.39L296.25 223.12L296.60 224.00L296.95 225.06L297.30 226.31L297.65 227.81L298.00 229.60L298.35 231.72L298.70 234.24L299.05 237.22L299.40 240.66L299.75 244.43L300.10 247.98L300.45 249.96L300.50 250.00L300.80 248.79L301.15 245.51L301.50 241.72L301.85 238.16L302.20 235.05L302.55 232.40L302.90 230.17L303.25 228.29L303.60 226.72L303.95 225.39L304.30 224.28L304.65 223.35L305.00 222.58L305.35 221.94L305.70 221.42L306.05 221.01L306.40 220.68L306.75 220.45L307.10 220.29L307.45 220.20L307.80 220.19L308.15 220.27L308.50 220.46L308.85 220.75L309.20 221.16L309.55 221.69L309.90 222.35L310.25 223.17L310.60 224.15L310.95 225.34L311.30 226.75L311.65 228.45L312.00 230.49L312.35 232.97L312.70 236.00L313.05 239.79L313.40 244.62L313.75 250.97L314.10 259.65L314.45 271.76L314.80 284.30L314.88 285.00L315.15 277.35L315.50 263.43L315.85 253.30L316.20 246.08L316.55 240.71L316.90 236.57L317.25 233.30L317.60 230.66L317.95 228.50L318.30 226.73L318.65 225.26L319.00 224.04L319.35 223.03L319.70 222.21L320.05 221.55L320.40 221.03L320.75 220.64L321.10 220.38L321.45 220.22L321.80 220.18L322.15 220.25L322.50 220.42L322.85 220.71L323.20 221.11L323.55 221.63L323.90 222.30L324.25 223.12L324.60 224.12L324.95 225.33L325.30 226.79L325.65 228.55L326.00 230.69L326.35 233.29L326.70 236.50L327.05 240.51L327.40 245.61L327.75 252.15L328.10 260.35L328.45 268.42L328.62 270.00L328.80 268.15L329.15 259.17L329.50 250.55L329.85 243.88L330.20 238.79L330.55 234.84L330.90 231.72L331.25 229.21L331.60 227.19L331.95 225.54L332.30 224.19L332.65 223.10L333.00 222.21L333.35 221.52L333.70 220.98L334.05 220.59L334.40 220.33L334.75 220.20L335.10 220.20L335.45 220.32L335.80 220.59L336.15 220.99L336.50 221.55L336.85 222.27L337.20 223.19L337.55 224.33L337.90 225.73L338.25 227.45L338.60 229.56L338.95 232.19L339.30 235.48L339.65 239.71L340.00 245.27L340.35 252.87L340.70 263.73L341.05 278.23L341.25 283.00L341.40 279.77L341.75 264.42L342.10 252.78L342.45 244.80L342.80 239.06L343.15 234.76L343.50 231.44L343.85 228.82L344.20 226.73L344.55 225.06L344.90 223.71L345.25 222.63L345.60 221.78L345.95 221.14L346.30 220.67L346.65 220.36L347.00 220.20L347.35 220.20L347.70 220.33L348.05 220.61L348.40 221.03L348.75 221.62L349.10 222.39L349.45 223.37L349.80 224.61L350.15 226.14L350.50 228.04L350.85 230.41L351.20 233.39L351.55 237.17L351.90 242.06L352.25 248.48L352.60 256.74L352.95 265.26L353.12 267.00L353.30 265.52L353.65 257.93L354.00 250.11L354.35 243.82L354.70 238.92L355.05 235.07L355.40 232.00L355.75 229.52L356.10 227.50L356.45 225.84L356.80 224.48L357.15 223.37L357.50 222.46L357.85 221.73L358.20 221.16L358.55 220.73L358.90 220.43L359.25 220.25L359.60 220.18L359.95 220.22L360.30 220.35L360.65 220.57L361.00 220.89L361.35 221.32L361.70 221.87L362.05 222.57L362.40 223.43L362.75 224.48L363.10 225.77L363.45 227.32L363.80 229.21L364.15 231.50L364.50 234.27L364.85 237.59L365.20 241.47L365.55 245.66L365.90 249.14L366.12 250.00L366.25 249.72L366.60 246.85L366.95 242.76L367.30 238.77L367.65 235.29L368.00 232.37L368.35 229.95L368.70 227.95L369.05 226.30L369.40 224.93L369.75 223.81L370.10 222.89L370.45 222.14L370.80 221.53L371.15 221.06L371.50 220.69L371.85 220.43L372.20 220.27L372.55 220.19L372.90 220.21L373.25 220.34L373.60 220.60L373.95 221.00L374.30 221.53L374.65 222.23L375.00 223.10L375.35 224.17L375.70 225.49L376.05 227.08L376.40 229.03L376.75 231.43L377.10 234.40L377.45 238.15L377.80 242.99L378.15 249.47L378.50 258.52L378.85 271.68L379.20 285.60L379.25 286.00L379.55 274.78L379.90 259.52L380.25 249.35L380.60 242.34L380.95 237.22L381.30 233.34L381.65 230.32L382.00 227.93L382.35 226.01L382.70 224.47L383.05 223.24L383.40 222.26L383.75 221.49L384.10 220.92L384.45 220.52L384.80 220.28L385.15 220.18L385.50 220.24L385.85 220.45L386.20 220.81L386.55 221.34L386.90 222.05L387.25 222.96L387.60 224.12L387.95 225.57L388.30 227.36L388.65 229.60L389.00 232.42L389.35 236.00L389.70 240.68L390.05 246.97L390.40 255.78L390.75 268.33L391.10 279.91L391.12 280.00L391.45 270.26L391.80 257.09L392.15 247.81L392.50 241.23L392.85 236.38L393.20 232.67L393.55 229.78L393.90 227.48L394.25 225.64L394.60 224.17L394.95 222.99L395.30 222.06L395.65 221.34L396.00 220.81L396.35 220.44L396.70 220.24L397.05 220.19L397.40 220.28L397.75 220.54L398.10 220.95L398.45 221.55L398.80 222.34L399.15 223.35L399.50 224.63L399.85 226.23L400.20 228.22L400.55 230.71L400.90 233.88L401.25 237.97L401.60 243.41L401.95 250.96L402.30 262.06L402.65 278.49L402.88 286.00L403.00 283.53L403.35 267.67L403.70 255.38L404.05 246.99L404.40 240.96L404.75 236.44L405.10 232.93L405.45 230.16L405.80 227.92L406.15 226.11L406.50 224.64L406.85 223.44L407.20 222.47L407.55 221.70L407.90 221.10L408.25 220.66L408.60 220.37L408.95 220.21L409.30 220.19L409.65 220.28L410.00 220.48L410.35 220.80L410.70 221.26L411.05 221.85L411.40 222.60L411.75 223.54L412.10 224.69L412.45 226.11L412.80 227.84L413.15 229.96L413.50 232.57L413.85 235.80L414.20 239.82L414.55 244.78L414.90 250.63L415.25 256.23L415.50 258.00L415.60 257.70L415.95 253.42L416.30 247.58L416.65 242.29L417.00 237.91L417.35 234.36L417.70 231.49L418.05 229.14L418.40 227.23L418.75 225.65L419.10 224.35L419.45 223.29L419.80 222.42L420.15 221.72L420.50 221.17L420.85 220.76L421.20 220.46L421.55 220.27L421.90 220.19L422.25 220.21L422.60 220.35L422.95 220.61L423.30 220.99L423.65 221.50L424.00 222.17L424.35 223.00L424.70 224.03L425.05 225.29L425.40 226.82L425.75 228.68L426.10 230.97L426.45 233.78L426.80 237.29L427.15 241.73L427.50 247.38L427.85 254.50L428.20 262.37L428.50 266.00L428.55 265.87L428.90 259.85L429.25 251.68L429.60 244.88L429.95 239.59L430.30 235.47L430.65 232.21L431.00 229.60L431.35 227.50L431.70 225.79L432.05 224.39L432.40 223.26L432.75 222.34L433.10 221.62L433.45 221.06L433.80 220.64L434.15 220.36L434.50 220.21L434.85 220.19L435.20 220.30L435.55 220.54L435.90 220.93L436.25 221.47L436.60 222.18L436.95 223.09L437.30 224.22L437.65 225.62L438.00 227.34L438.35 229.46L438.70 232.09L439.05 235.41L439.40 239.67L439.75 245.30L440.10 253.08L440.45 264.40L440.80 280.35L441.00 286.00L441.15 282.27L441.50 265.56L441.85 253.47L442.20 245.30L442.55 239.47L442.90 235.10L443.25 231.73L443.60 229.07L443.95 226.95L444.30 225.24L444.65 223.87L445.00 222.77L445.35 221.90L445.70 221.22L446.05 220.73L446.40 220.40L446.75 220.22L447.10 220.19L447.45 220.29L447.80 220.52L448.15 220.90L448.50 221.42L448.85 222.11L449.20 223.00L449.55 224.11L449.90 225.49L450.25 227.20L450.60 229.31L450.95 231.95L451.30 235.26L451.65 239.46L452.00 244.84L452.35 251.61L452.70 259.07L453.00 262.50L453.05 262.38L453.40 257.03L453.75 249.54L454.10 243.16L454.45 238.15L454.80 234.23L455.15 231.13L455.50 228.66L455.85 226.67L456.20 225.07L456.55 223.77L456.90 222.73L457.25 221.90L457.60 221.25L457.95 220.78L458.30 220.44L458.65 220.25L459.00 220.18L459.35 220.26L459.70 220.48L460.05 220.85L460.40 221.40L460.75 222.12L461.10 223.06L461.45 224.23L461.80 225.69L462.15 227.51L462.50 229.77L462.85 232.61L463.20 236.23L463.55 240.95L463.90 247.35L464.25 256.43L464.60 270.04L464.95 285.52L465.00 286.00L465.30 274.55L465.65 259.17L466.00 249.00L466.35 242.00L466.70 236.90L467.05 233.05L467.40 230.05L467.75 227.68L468.10 225.79L468.45 224.27L468.80 223.06L469.15 222.11L469.50 221.37L469.85 220.82L470.20 220.45L470.55 220.24L470.90 220.18L471.25 220.27L471.60 220.48L471.95 220.84L472.30 221.35L472.65 222.03L473.00 222.90L473.35 224.01L473.70 225.38L474.05 227.10L474.40 229.23L474.75 231.89L475.10 235.24L475.45 239.49L475.80 244.86L476.15 251.37L476.50 257.56L476.70 259.00L476.85 258.10L477.20 252.00L477.55 245.20L477.90 239.59L478.25 235.19L478.60 231.75L478.95 229.03L479.30 226.87L479.65 225.15L480.00 223.78L480.35 222.69L480.70 221.83L481.05 221.18L481.40 220.71L481.75 220.39L482.10 220.22L482.45 220.19L482.80 220.33L483.15 220.64L483.50 221.13L483.85 221.83L484.20 222.76L484.55 223.96L484.90 225.48L485.25 227.38L485.60 229.79L485.95 232.87L486.30 236.88L486.65 242.27L487.00 249.92"/>
<path stroke="#ffa500" stroke-width="1.5" d="M91.50 313.17L91.80 286.00L92.10 268.19L92.40 257.97L92.70 251.26L93.00 246.52L93.30 243.01L93.60 240.35L93.90 238.32L94.20 236.76L94.50 235.57L94.80 234.70L95.10 234.10L95.40 233.75L95.70 233.62L96.00 233.71L96.30 234.03L96.60 234.59L96.90 235.42L97.20 236.56L97.50 238.06L97.80 240.03L98.10 242.59L98.40 245.96L98.70 250.52L99.00 256.92L99.30 266.60L99.60 283.45L99.90 320.27L99.95 324.00L100.20 292.65L100.50 271.21L100.80 259.82L101.10 252.56L101.40 247.49L101.70 243.78L102.00 240.98L102.30 238.84L102.60 237.20L102.90 235.96L103.20 235.03L103.50 234.39L103.80 234.00L104.10 233.84L104.40 233.90L104.70 234.19L105.00 234.71L105.30 235.50L105.60 236.58L105.90 238.02L106.20 239.90L106.50 242.35L106.80 245.57L107.10 249.89L107.40 255.89L107.70 264.76L108.00 279.25L108.30 303.67L108.38 307.00L108.60 291.96L108.90 272.68L109.20 261.48L109.50 254.22L109.80 249.14L110.10 245.42L110.40 242.61L110.70 240.46L111.00 238.81L111.30 237.56L111.60 236.63L111.90 235.98L112.20 235.58L112.50 235.41L112.80 235.45L113.10 235.68L113.40 236.12L113.70 236.79L114.00 237.71L114.30 238.95L114.60 240.56L114.90 242.65L115.20 245.36L115.50 248.93L115.80 253.66L116.10 260.03L116.40 268.29L116.70 275.94L116.79 276.57L117.00 273.23L117.30 264.51L117.60 257.02L117.90 251.42L118.20 247.23L118.50 244.06L118.80 241.64L119.10 239.77L119.40 238.34L119.70 237.25L120.00 236.45L120.30 235.89L120.60 235.54L120.90 235.40L121.20 235.44L121.50 235.68L121.80 236.12L122.10 236.79L122.40 237.72L122.70 238.96L123.00 240.58L123.30 242.68L123.60 245.41L123.90 249.00L124.20 253.77L124.50 260.17L124.80 268.41L125.10 275.69L125.17 276.12L125.40 272.45L125.70 263.80L126.00 256.47L126.30 250.97L126.60 246.87L126.90 243.76L127.20 241.38L127.50 239.55L127.80 238.14L128.10 237.08L128.40 236.30L128.70 235.75L129.00 235.43L129.30 235.30L129.60 235.36L129.90 235.65L130.20 236.16L130.50 236.93L130.80 237.99L131.10 239.40L131.40 241.25L131.70 243.65L132.00 246.80L132.30 251.01L132.60 256.79L132.90 265.07L133.20 277.24L133.50 289.75L133.54 290.00L133.80 281.21L134.10 268.47L134.40 259.57L134.70 253.38L135.00 248.90L135.30 245.56L135.60 243.02L135.90 241.08L136.20 239.59L136.50 238.47L136.80 237.65L137.10 237.08L137.40 236.75L137.70 236.64L138.00 236.75L138.30 237.08L138.60 237.66L138.90 238.50L139.20 239.66L139.50 241.19L139.80 243.20L140.10 245.82L140.40 249.28L140.70 253.96L141.00 260.55L141.30 270.40L141.60 286.35L141.88 302.00L141.90 301.80L142.20 283.27L142.50 268.42L142.80 259.18L143.10 252.95L143.40 248.48L143.70 245.17L144.00 242.65L144.30 240.73L144.60 239.27L144.90 238.16L145.20 237.37L145.50 236.83L145.80 236.54L146.10 236.48L146.40 236.61L146.70 236.94L147.00 237.47L147.30 238.25L147.60 239.31L147.90 240.70L148.20 242.52L148.50 244.88L148.80 247.97L149.10 252.03L149.40 257.43L149.70 264.49L150.00 272.26L150.20 274.79L150.30 274.13L150.60 267.80L150.90 260.74L151.20 255.10L151.50 250.81L151.80 247.55L152.10 245.05L152.40 243.14L152.70 241.66L153.00 240.54L153.30 239.71L153.60 239.12L153.90 238.75L154.20 238.56L154.50 238.56L154.80 238.74L155.10 239.10L155.40 239.66L155.70 240.45L156.00 241.51L156.30 242.92L156.60 244.75L156.90 247.13L157.20 250.22L157.50 254.25L157.80 259.46L158.10 265.76L158.40 271.08L158.50 271.57L158.70 269.57L159.00 263.29L159.30 257.26L159.60 252.47L159.90 248.80L160.20 245.99L160.50 243.83L160.80 242.18L161.10 240.92L161.40 239.97L161.70 239.28L162.00 238.82L162.30 238.54L162.60 238.45L162.90 238.55L163.20 238.84L163.50 239.35L163.80 240.09L164.10 241.12L164.40 242.48L164.70 244.27L165.00 246.60L165.30 249.65L165.60 253.69L165.90 259.08L166.20 266.19L166.50 274.27L166.71 277.23L166.80 276.49L167.10 268.15L167.40 259.53L167.70 253.06L168.00 248.30L168.30 244.75L168.60 242.06L168.90 240.01L169.20 238.45L169.50 237.27L169.80 236.40L170.10 235.80L170.40 235.43L170.70 235.27L171.00 235.33L171.30 235.62L171.60 236.16L171.90 236.97L172.20 238.10L172.50 239.61L172.80 241.59L173.10 244.21L173.40 247.68L173.70 252.40L174.00 259.07L174.30 269.02L174.60 284.63L174.84 296.00L174.90 295.08L175.20 278.19L175.50 265.01L175.80 256.54L176.10 250.74L176.40 246.57L176.70 243.47L177.00 241.13L177.30 239.36L177.60 238.02L177.90 237.04L178.20 236.36L178.50 235.94L178.80 235.77L179.10 235.83L179.40 236.14L179.70 236.71L180.00 237.57L180.30 238.77L180.60 240.37L180.90 242.49L181.20 245.28L181.50 249.03L181.80 254.19L182.10 261.65L182.40 273.40L182.70 294.44L182.90 309.00L183.00 303.24L183.30 278.67L183.60 264.87L183.90 256.42L184.20 250.70L184.50 246.61L184.80 243.58L185.10 241.30L185.40 239.58L185.70 238.29L186.00 237.36L186.30 236.73L186.60 236.37L186.90 236.26L187.20 236.37L187.50 236.69L187.80 237.22L188.10 238.02L188.40 239.11L188.70 240.56L189.00 242.48L189.30 245.01L189.60 248.34L189.90 252.77L190.20 258.66L190.50 266.08L190.80 272.31L190.87 272.63L191.10 269.51L191.40 262.08L191.70 255.57L192.00 250.61L192.30 246.89L192.60 244.09L192.90 241.97L193.20 240.35L193.50 239.15L193.80 238.26L194.10 237.64L194.40 237.26L194.70 237.09L195.00 237.12L195.30 237.35L195.60 237.80L195.90 238.49L196.20 239.46L196.50 240.78L196.80 242.54L197.10 244.84L197.40 247.89L197.70 251.95L198.00 257.36L198.30 264.37L198.60 271.50L198.75 272.94L198.90 271.67L199.20 265.48L199.50 259.20L199.80 254.24L200.10 250.50L200.40 247.67L200.70 245.54L201.00 243.93L201.30 242.74L201.60 241.86L201.90 241.26L202.20 240.89L202.50 240.72L202.80 240.76L203.10 241.01L203.40 241.49L203.70 242.23L204.00 243.28L204.30 244.69L204.60 246.58L204.90 249.09L205.20 252.44L205.50 256.92L205.80 262.96L206.10 270.67L206.40 277.06L206.46 277.31L206.70 273.74L207.00 266.09L207.30 259.59L207.60 254.72L207.90 251.11L208.20 248.41L208.50 246.39L208.80 244.88L209.10 243.77L209.40 242.99L209.70 242.48L210.00 242.20L210.30 242.15L210.60 242.31L210.90 242.70L211.20 243.34L211.50 244.27L211.80 245.55L212.10 247.29L212.40 249.60L212.70 252.70L213.00 256.85L213.30 262.43L213.60 269.60L213.90 276.15L213.99 276.76L214.20 274.02L214.50 266.33L214.80 259.60L215.10 254.57L215.40 250.86L215.70 248.10L216.00 246.05L216.30 244.53L216.60 243.43L216.90 242.65L217.20 242.15L217.50 241.90L217.80 241.89L218.10 242.16L218.40 242.74L218.70 243.67L219.00 245.00L219.30 246.84L219.60 249.33L219.90 252.73L220.20 257.46L220.50 264.37L220.80 275.45L221.10 297.50L221.37 335.45L221.40 335.45L221.70 290.24L222.00 272.12L222.30 262.36L222.60 256.11L222.90 251.80L223.20 248.69L223.50 246.42L223.80 244.76L224.10 243.58L224.40 242.79L224.70 242.35L225.00 242.23L225.30 242.41L225.60 242.92L225.90 243.78L226.20 245.04L226.50 246.81L226.80 249.23L227.10 252.53L227.40 257.15L227.70 263.92L228.00 274.73L228.30 296.07L228.58 335.45L228.60 335.45L228.90 291.13L229.20 272.60L229.50 262.74L229.80 256.47L230.10 252.16L230.40 249.08L230.70 246.83L231.00 245.21L231.30 244.07L231.60 243.34L231.90 242.95L232.20 242.89L232.50 243.09L232.80 243.53L233.10 244.26L233.40 245.33L233.70 246.82L234.00 248.86L234.30 251.64L234.60 255.42L234.90 260.56L235.20 267.28L235.50 273.98L235.63 275.04L235.80 273.17L236.10 266.15L236.40 259.71L236.70 254.86L237.00 251.32L237.30 248.73L237.60 246.85L237.90 245.48L238.20 244.53L238.50 243.90L238.80 243.55L239.10 243.45L239.40 243.59L239.70 243.99L240.00 244.67L240.30 245.69L240.60 247.13L240.90 249.13L241.20 251.86L241.50 255.60L241.80 260.71L242.10 267.44L242.40 274.15L242.52 275.17L242.70 273.18L243.00 266.05L243.30 259.60L243.60 254.79L243.90 251.30L244.20 248.77L244.50 246.93L244.80 245.61L245.10 244.71L245.40 244.12L245.70 243.82L246.00 243.78L246.30 243.96L246.60 244.39L246.90 245.10L247.20 246.16L247.50 247.65L247.80 249.73L248.10 252.59L248.40 256.49L248.70 261.69L249.00 267.88L249.29 271.49L249.30 271.47L249.60 267.29L249.90 261.11L250.20 256.04L250.50 252.28L250.80 249.53L251.10 247.55L251.40 246.13L251.70 245.15L252.00 244.50L252.30 244.13L252.60 244.00L252.90 244.11L253.20 244.48L253.50 245.14L253.80 246.16L254.10 247.62L254.40 249.66L254.70 252.49L255.00 256.39L255.30 261.74L255.60 268.63L255.90 274.30L255.95 274.49L256.20 271.27L256.50 264.56L256.80 258.91L257.10 254.73L257.40 251.70L257.70 249.52L258.00 247.97L258.30 246.88L258.60 246.16L258.90 245.75L259.20 245.59L259.50 245.70L259.80 246.11L260.10 246.84L260.40 247.95L260.70 249.57L261.00 251.82L261.30 254.96L261.60 259.36L261.90 265.55L262.20 273.79L262.50 280.26L262.52 280.29L262.80 274.96L263.10 266.61L263.40 260.22L263.70 255.68L264.00 252.45L264.30 250.15L264.60 248.51L264.90 247.37L265.20 246.64L265.50 246.24L265.80 246.14L266.10 246.36L266.40 246.94L266.70 247.92L267.00 249.39L267.30 251.49L267.60 254.44L267.90 258.62L268.20 264.70L268.50 273.88L268.80 287.25L268.99 293.02L269.10 290.74L269.40 276.89L269.70 266.49L270.00 259.70L270.30 255.10L270.60 251.88L270.90 249.61L271.20 248.01L271.50 246.94L271.80 246.30L272.10 246.02L272.40 246.09L272.70 246.44L273.00 247.11L273.30 248.16L273.60 249.70L273.90 251.88L274.20 254.94L274.50 259.24L274.80 265.22L275.10 272.76L275.37 277.12L275.40 277.04L275.70 270.73L276.00 263.00L276.30 257.21L276.60 253.11L276.90 250.21L277.20 248.16L277.50 246.72L277.80 245.76L278.10 245.18L278.40 244.92L278.70 244.95L279.00 245.23L279.30 245.81L279.60 246.74L279.90 248.12L280.20 250.09L280.50 252.88L280.80 256.78L281.10 262.09L281.40 268.44L281.66 271.62L281.70 271.50L282.00 266.84L282.30 260.92L282.60 256.25L282.90 252.87L283.20 250.47L283.50 248.79L283.80 247.63L284.10 246.88L284.40 246.45L284.70 246.28L285.00 246.39L285.30 246.82L285.60 247.62L285.90 248.86L286.20 250.68L286.50 253.27L286.80 256.96L287.10 262.23L287.40 269.69L287.70 278.46L287.85 280.50L288.00 278.46L288.30 269.77L288.60 262.39L288.90 257.19L289.20 253.57L289.50 251.04L289.80 249.27L290.10 248.07L290.40 247.32L290.70 246.93L291.00 246.87L291.30 247.12L291.60 247.68L291.90 248.63L292.20 250.06L292.50 252.13L292.80 255.09L293.10 259.29L293.40 265.17L293.70 272.57L293.95 276.46L294.00 276.28L294.30 270.10L294.60 262.94L294.90 257.61L295.20 253.85L295.50 251.22L295.80 249.40L296.10 248.16L296.40 247.38L296.70 246.95L297.00 246.84L297.30 246.99L297.60 247.42L297.90 248.17L298.20 249.33L298.50 251.05L298.80 253.54L299.10 257.07L299.40 261.92L299.70 267.79L299.97 270.98L300.00 270.92L300.30 266.64L300.60 260.94L300.90 256.44L301.20 253.22L301.50 250.96L301.80 249.41L302.10 248.38L302.40 247.74L302.70 247.40L303.00 247.33L303.30 247.58L303.60 248.23L303.90 249.34L304.20 251.03L304.50 253.49L304.80 257.05L305.10 262.26L305.40 270.01L305.70 280.95L305.92 286.61L306.00 285.80L306.30 275.48L306.60 266.24L306.90 260.01L307.20 255.78L307.50 252.88L307.80 250.88L308.10 249.53L308.40 248.70L308.70 248.28L309.00 248.24L309.30 248.47L309.60 248.99L309.90 249.85L310.20 251.19L310.50 253.17L310.80 256.02L311.10 260.06L311.40 265.44L311.70 270.83L311.83 271.70L312.00 270.24L312.30 264.75L312.60 259.67L312.90 255.92L313.20 253.29L313.50 251.49L313.80 250.28L314.10 249.51L314.40 249.07L314.70 248.90L315.00 249.02L315.30 249.49L315.60 250.37L315.90 251.76L316.20 253.82L316.50 256.82L316.80 261.16L317.10 267.48L317.40 276.08L317.68 281.80L317.70 281.75L318.00 274.69L318.30 266.35L318.60 260.39L318.90 256.30L319.20 253.48L319.50 251.56L319.80 250.27L320.10 249.48L320.40 249.09L320.70 249.07L321.00 249.45L321.30 250.29L321.60 251.67L321.90 253.76L322.20 256.81L322.50 261.30L322.80 268.09L323.10 278.71L323.40 292.30L323.48 293.54L323.70 285.62L324.00 272.32L324.30 263.74L324.60 258.21L324.90 254.50L325.20 251.97L325.50 250.27L325.80 249.19L326.10 248.61L326.40 248.47L326.70 248.74L327.00 249.44L327.30 250.66L327.60 252.52L327.90 255.25L328.20 259.27L328.50 265.26L328.80 274.39L329.10 286.36L329.22 288.71L329.40 284.70L329.70 273.37L330.00 265.16L330.30 259.73L330.60 256.07L330.90 253.58L331.20 251.91L331.50 250.84L331.80 250.26L332.10 250.09L332.40 250.32L332.70 250.96L333.00 252.08L333.30 253.82L333.60 256.38L333.90 260.15L334.20 265.71L334.50 273.94L334.80 283.86L334.92 285.56L335.10 281.95L335.40 271.67L335.70 263.98L336.00 258.83L336.30 255.35L336.60 252.99L336.90 251.41L337.20 250.42L337.50 249.89L337.80 249.77L338.10 250.06L338.40 250.79L338.70 252.05L339.00 253.98L339.30 256.84L339.60 261.07L339.90 267.42L340.20 277.04L340.50 287.95L340.56 288.62L340.80 282.21L341.10 271.18L341.40 263.62L341.70 258.63L342.00 255.29L342.30 253.03L342.60 251.53L342.90 250.62L343.20 250.18L343.50 250.15L343.80 250.44L344.10 251.07L344.40 252.14L344.70 253.79L345.00 256.26L345.30 259.86L345.60 265.01L345.90 271.52L346.16 275.12L346.20 275.01L346.50 270.05L346.80 263.99L347.10 259.42L347.40 256.25L347.70 254.10L348.00 252.68L348.30 251.78L348.60 251.27L348.90 251.08L349.20 251.22L349.50 251.78L349.80 252.81L350.10 254.45L350.40 256.91L350.70 260.55L351.00 265.97L351.30 274.04L351.60 284.01L351.73 285.96L351.90 282.60L352.20 272.27L352.50 264.52L352.80 259.36L353.10 255.90L353.40 253.56L353.70 252.02L354.00 251.06L354.30 250.58L354.60 250.51L354.90 250.77L355.20 251.38L355.50 252.42L355.80 254.04L356.10 256.47L356.40 260.04L356.70 265.17L357.00 271.74L357.27 275.49L357.30 275.40L357.60 270.54L357.90 264.51L358.20 259.97L358.50 256.83L358.80 254.71L359.10 253.32L359.40 252.45L359.70 251.97L360.00 251.80L360.30 251.99L360.60 252.61L360.90 253.75L361.20 255.55L361.50 258.25L361.80 262.26L362.10 268.31L362.40 277.43L362.70 287.87L362.77 288.68L363.00 282.58L363.30 271.45L363.60 263.83L363.90 258.85L364.20 255.53L364.50 253.31L364.80 251.85L365.10 250.99L365.40 250.60L365.70 250.65L366.00 251.08L366.30 251.97L366.60 253.41L366.90 255.60L367.20 258.87L367.50 263.72L367.80 270.83L368.10 279.56L368.25 281.75L368.40 279.77L368.70 271.37L369.00 264.40L369.30 259.63L369.60 256.41L369.90 254.26L370.20 252.85L370.50 251.99L370.80 251.57L371.10 251.55L371.40 251.96L371.70 252.88L372.00 254.42L372.30 256.77L372.60 260.30L372.90 265.62L373.20 273.87L373.50 286.18L373.70 292.04L373.80 290.26L374.10 277.52L374.40 267.86L374.70 261.69L375.00 257.64L375.30 254.95L375.60 253.17L375.90 252.07L376.20 251.50L376.50 251.40L376.80 251.70L377.10 252.42L377.40 253.65L377.70 255.57L378.00 258.45L378.30 262.73L378.60 269.04L378.90 277.36L379.12 281.21L379.20 280.64L379.50 273.36L379.80 266.23L380.10 261.23L380.40 257.86L380.70 255.61L381.00 254.13L381.30 253.23L381.60 252.77L381.90 252.69L382.20 252.99L382.50 253.72L382.80 254.98L383.10 256.95L383.40 259.90L383.70 264.31L384.00 270.84L384.30 279.51L384.51 283.33L384.60 282.51L384.90 274.08L385.20 266.37L385.50 261.11L385.80 257.59L386.10 255.24L386.40 253.70L386.70 252.77L387.00 252.30L387.30 252.25L387.60 252.64L387.90 253.55L388.20 255.08L388.50 257.45L388.80 261.01L389.10 266.43L389.40 274.84L389.70 287.07L389.88 291.65L390.00 289.20L390.30 277.15L390.60 268.20L390.90 262.44L391.20 258.66L391.50 256.15L391.80 254.51L392.10 253.52L392.40 253.06L392.70 253.04L393.00 253.37L393.30 254.09L393.60 255.31L393.90 257.22L394.20 260.09L394.50 264.35L394.80 270.39L395.10 276.99L395.23 278.13L395.40 276.13L395.70 269.29L396.00 263.54L396.30 259.54L396.60 256.85L396.90 255.07L397.20 253.95L397.50 253.30L397.80 253.03L398.10 253.11L398.40 253.61L398.70 254.60L399.00 256.22L399.30 258.71L399.60 262.43L399.90 268.04L400.20 276.33L400.50 285.14L400.57 285.68L400.80 280.29L401.10 270.48L401.40 263.57L401.70 259.01L402.00 255.98L402.30 253.98L402.60 252.70L402.90 251.98L403.20 251.73L403.50 251.91L403.80 252.59L404.10 253.83L404.40 255.82L404.70 258.83L405.00 263.38L405.30 270.41L405.60 281.27L405.89 290.98L405.90 290.97L406.20 280.76L406.50 270.02L406.80 263.11L407.10 258.63L407.40 255.66L407.70 253.72L408.00 252.50L408.30 251.85L408.60 251.69L408.90 251.99L409.20 252.78L409.50 254.16L409.80 256.32L410.10 259.59L410.40 264.55L410.70 272.18L411.00 283.31L411.21 288.84L411.30 287.67L411.60 276.74L411.90 267.74L412.20 261.88L412.50 258.03L412.80 255.48L413.10 253.82L413.40 252.81L413.70 252.33L414.00 252.30L414.30 252.73L414.60 253.66L414.90 255.22L415.20 257.63L415.50 261.26L415.80 266.77L416.10 275.20L416.40 286.01L416.52 288.00L416.70 283.97L417.00 273.01L417.30 265.18L417.60 260.08L417.90 256.72L418.20 254.50L418.50 253.07L418.80 252.25L419.10 251.92L419.40 252.05L419.70 252.68L420.00 253.87L420.30 255.80L420.60 258.75L420.90 263.21L421.20 270.12L421.50 281.01L421.80 292.30L421.82 292.36L422.10 282.42L422.40 270.94L422.70 263.63L423.00 258.94L423.30 255.85L423.60 253.82L423.90 252.55L424.20 251.87L424.50 251.69L424.80 251.94L425.10 252.60L425.40 253.79L425.70 255.66L426.00 258.51L426.30 262.79L426.60 269.13L426.90 277.40L427.10 280.74L427.20 279.85L427.50 272.07L427.80 264.94L428.10 260.04L428.40 256.77L428.70 254.60L429.00 253.21L429.30 252.38L429.60 252.00L429.90 252.02L430.20 252.48L430.50 253.43L430.80 255.02L431.10 257.46L431.40 261.16L431.70 266.76L432.00 275.18L432.30 284.73L432.38 285.56L432.60 280.77L432.90 271.08L433.20 264.16L433.50 259.60L433.80 256.59L434.10 254.60L434.40 253.35L434.70 252.66L435.00 252.42L435.30 252.58L435.60 253.11L435.90 254.09L436.20 255.68L436.50 258.13L436.80 261.80L437.10 267.20L437.40 274.25L437.64 277.92L437.70 277.68L438.00 271.98L438.30 265.72L438.60 261.21L438.90 258.16L439.20 256.16L439.50 254.88L439.80 254.12L440.10 253.76L440.40 253.75L440.70 254.14L441.00 255.00L441.30 256.46L441.60 258.72L441.90 262.15L442.20 267.32L442.50 275.00L442.80 283.81L442.90 284.90L443.10 280.79L443.40 271.03L443.70 263.95L444.00 259.28L444.30 256.20L444.60 254.17L444.90 252.89L445.20 252.18L445.50 251.93L445.80 252.13L446.10 252.85L446.40 254.17L446.70 256.28L447.00 259.49L447.30 264.39L447.60 272.05L447.90 283.96L448.15 292.11L448.20 291.53L448.50 279.40L448.80 269.18L449.10 262.71L449.40 258.53L449.70 255.78L450.00 253.99L450.30 252.91L450.60 252.39L450.90 252.36L451.20 252.80L451.50 253.78L451.80 255.42L452.10 257.95L452.40 261.80L452.70 267.71L453.00 276.85L453.30 288.22L453.39 289.49L453.60 283.73L453.90 272.29L454.20 264.57L454.50 259.60L454.80 256.34L455.10 254.20L455.40 252.85L455.70 252.10L456.00 251.86L456.30 252.05L456.60 252.69L456.90 253.84L457.20 255.70L457.50 258.53L457.80 262.82L458.10 269.24L458.40 278.01L458.62 282.30L458.70 281.69L459.00 273.54L459.30 265.88L459.60 260.66L459.90 257.20L460.20 254.92L460.50 253.45L460.80 252.58L461.10 252.18L461.40 252.20L461.70 252.71L462.00 253.79L462.30 255.57L462.60 258.31L462.90 262.48L463.20 268.95L463.50 279.17L463.80 291.51L463.86 292.16L464.10 284.46L464.40 272.80L464.70 265.23L465.00 260.38L465.30 257.20L465.60 255.12L465.90 253.82L466.20 253.12L466.50 252.93L466.80 253.14L467.10 253.73L467.40 254.80L467.70 256.51L468.00 259.15L468.30 263.11L468.60 268.88L468.90 275.94L469.08 278.21L469.20 277.18L469.50 270.52L469.80 264.41L470.10 260.14L470.40 257.29L470.70 255.43L471.00 254.26L471.30 253.59L471.60 253.31L471.90 253.39L472.20 253.93L472.50 255.00L472.80 256.73L473.10 259.41L473.40 263.47L473.70 269.65L474.00 278.78L474.30 286.54L474.30 286.54L474.60 278.61L474.90 269.11L475.20 262.73L475.50 258.56L475.80 255.81L476.10 254.02L476.40 252.93L476.70 252.37L477.00 252.28L477.30 252.61L477.60 253.40L477.90 254.77L478.20 256.92L478.50 260.19L478.80 265.12L479.10 272.46L479.40 281.16L479.52 282.64L479.70 279.81L480.00 271.39L480.30 264.83L480.60 260.43L480.90 257.52L481.20 255.61L481.50 254.41L481.80 253.75L482.10 253.52L482.40 253.71L482.70 254.39L483.00 255.66L483.30 257.68L483.60 260.78L483.90 265.49L484.20 272.76L484.50 283.46L484.73 289.46L484.80 288.68L485.10 278.09L485.40 269.00L485.70 263.09L486.00 259.23L486.30 256.70L486.60 255.07L486.90 254.10"/>
<path stroke="#ff0000" d="M91.50 313.17L91.75 294.99L92.00 280.42L92.25 271.95L92.50 266.60L92.75 263.03L93.00 260.61L93.25 259.01L93.50 258.03L93.75 257.56L94.00 257.56L94.25 258.06L94.50 259.12L94.75 260.84L95.00 263.43L95.25 267.27L95.50 273.13L95.75 282.74L96.00 301.78L96.25 335.45L96.40 335.45L96.50 335.45L96.75 307.09L97.00 284.17L97.25 273.42L97.50 267.05L97.75 262.91L98.00 260.14L98.25 258.30L98.50 257.16L98.75 256.59L99.00 256.54L99.25 256.98L99.50 257.96L99.75 259.57L100.00 262.02L100.25 265.66L100.50 271.16L100.75 280.00L101.00 295.97L101.25 320.00L101.40 320.00L101.50 320.00L101.75 299.34L102.00 280.61L102.25 270.68L102.50 264.63L102.75 260.67L103.00 258.00L103.25 256.23L103.50 255.13L103.75 254.59L104.00 254.52L104.25 254.71L104.50 255.16L104.75 255.94L105.00 257.20L105.25 259.11L105.50 261.93L105.75 265.91L106.00 270.83L106.25 274.00L106.40 274.00L106.50 274.00L106.75 272.14L107.00 268.08L107.25 264.72L107.50 262.43L107.75 261.00L108.00 260.17L108.25 259.73L108.50 259.54L108.75 259.50L109.00 259.65L109.25 260.05L109.50 260.82L109.75 262.13L110.00 264.21L110.25 267.39L110.50 271.81L110.75 276.32L111.00 277.00L111.25 276.57L111.50 273.38L111.75 269.81L112.00 266.95L112.25 264.90L112.50 263.49L112.75 262.58L113.00 262.01L113.25 261.69L113.50 261.54L113.75 261.50L114.00 261.68L114.25 262.11L114.50 262.87L114.75 264.03L115.00 265.74L115.25 268.19L115.50 271.64L115.75 276.39L116.00 282.24L116.25 286.00L116.40 286.00L116.50 286.00L116.75 282.42L117.00 275.15L117.25 269.44L117.50 265.45L117.75 262.72L118.00 260.87L118.25 259.66L118.50 258.92L118.75 258.56L119.00 258.54L119.25 258.98L119.50 259.95L119.75 261.55L120.00 263.99L120.25 267.60L120.50 273.07L120.75 281.82L121.00 297.48L121.25 320.00L121.40 320.00L121.50 320.00L121.75 299.60L122.00 281.29L122.25 271.71L122.50 265.98L122.75 262.31L123.00 259.93L123.25 258.46L123.50 257.68L123.75 257.51L124.00 257.94L124.25 259.03L124.50 260.91L124.75 263.88L125.00 268.48L125.25 275.90L125.50 289.48L125.75 326.78L126.00 335.45L126.25 327.78L126.50 290.48L126.75 276.90L127.00 269.48L127.25 264.88L127.50 261.91L127.75 260.03L128.00 258.94L128.25 258.51L128.50 258.66L128.75 259.35L129.00 260.65L129.25 262.76L129.50 266.00L129.75 270.99L130.00 278.89L130.25 291.43L130.50 300.00L130.60 300.00L130.75 300.00L131.00 290.21L131.25 279.34L131.50 272.19L131.75 267.49L132.00 264.32L132.25 262.18L132.50 260.77L132.75 259.92L133.00 259.53L133.25 259.56L133.50 259.92L133.75 260.66L134.00 261.87L134.25 263.72L134.50 266.45L134.75 270.44L135.00 276.15L135.25 283.42L135.50 287.00L135.60 287.00L135.75 287.00L136.00 282.70L136.25 276.52L136.50 271.82L136.75 268.58L137.00 266.41L137.25 265.00L137.50 264.12L137.75 263.65L138.00 263.50L138.25 263.69L138.50 264.28L138.75 265.34L139.00 267.04L139.25 269.61L139.50 273.43L139.75 279.10L140.00 287.00L140.25 293.00L140.40 293.00L140.50 293.00L140.75 287.57L141.00 278.09L141.25 271.44L141.50 267.09L141.75 264.23L142.00 262.38L142.25 261.24L142.50 260.64L142.75 260.51L143.00 260.91L143.25 261.91L143.50 263.65L143.75 266.39L144.00 270.60L144.25 277.26L144.50 288.56L144.75 308.48L145.00 314.00L145.25 308.62L145.50 289.15L145.75 278.12L146.00 271.67L146.25 267.64L146.50 265.08L146.75 263.51L147.00 262.69L147.25 262.51L147.50 262.98L147.75 264.19L148.00 266.30L148.25 269.66L148.50 275.02L148.75 284.09L149.00 302.53L149.25 335.45L149.40 335.45L149.50 335.45L149.75 302.86L150.00 281.43L150.25 271.99L150.50 266.82L150.75 263.85L151.00 262.29L151.25 261.80L151.50 262.29L151.75 263.85L152.00 266.82L152.25 271.99L152.50 281.43L152.75 302.86L153.00 335.45L153.10 335.45L153.25 335.45L153.50 305.99L153.75 287.35L154.00 278.10L154.25 272.58L154.50 269.05L154.75 266.77L155.00 265.39L155.25 264.71L155.50 264.62L155.75 264.80L156.00 265.24L156.25 266.06L156.50 267.46L156.75 269.68L157.00 273.02L157.25 277.53L157.50 281.42L157.70 281.60L157.75 281.60L158.00 280.39L158.25 276.41L158.50 273.09L158.75 270.94L159.00 269.73L159.25 269.13L159.50 268.88L159.75 268.80L160.00 268.86L160.25 269.15L160.50 269.79L160.75 271.01L161.00 273.12L161.25 276.48L161.50 281.10L161.75 284.40L161.90 284.40L162.00 284.40L162.25 282.26L162.50 277.90L162.75 274.54L163.00 272.41L163.25 271.18L163.50 270.55L163.75 270.28L164.00 270.20L164.25 270.46L164.50 271.28L164.75 272.82L165.00 275.35L165.25 279.38L165.50 285.76L165.75 295.27L166.00 301.00L166.10 301.00L166.25 301.00L166.50 290.40L166.75 279.68L167.00 273.08L167.25 268.98L167.50 266.42L167.75 264.88L168.00 264.09L168.25 263.91L168.50 264.44L168.75 265.78L169.00 268.15L169.25 272.01L169.50 278.36L169.75 289.80L170.00 317.55L170.25 335.45L170.30 335.45L170.50 335.45L170.75 295.89L171.00 281.03L171.25 273.58L171.50 269.31L171.75 266.84L172.00 265.59L172.25 265.30L172.50 265.32L172.75 265.50L173.00 266.10L173.25 267.53L173.50 270.19L173.75 274.00L174.00 276.00L174.10 276.00L174.25 276.00L174.50 273.82L174.75 270.63L175.00 268.30L175.25 266.93L175.50 266.26L175.75 266.03L176.00 265.99L176.25 266.00L176.50 266.18L176.75 266.76L177.00 267.88L177.25 269.74L177.50 272.72L177.75 277.30L178.00 283.75L178.25 288.60L178.40 288.60L178.50 288.60L178.75 285.64L179.00 279.65L179.25 274.98L179.50 271.83L179.75 269.79L180.00 268.53L180.25 267.80L180.50 267.45L180.75 267.45L181.00 268.03L181.25 269.33L181.50 271.52L181.75 274.97L182.00 280.41L182.25 289.57L182.50 308.12L182.75 335.45L182.90 335.45L183.00 335.45L183.25 307.89L183.50 286.32L183.75 276.75L184.00 271.45L184.25 268.36L184.50 266.67L184.75 266.02L185.00 266.09L185.25 266.53L185.50 267.51L185.75 269.36L186.00 272.59L186.25 277.61L186.50 282.73L186.70 283.00L186.75 283.00L187.00 281.25L187.25 275.92L187.50 271.79L187.75 269.24L188.00 267.79L188.25 267.05L188.50 266.75L188.75 266.77L189.00 267.56L189.25 269.38L189.50 272.59L189.75 278.00L190.00 287.69L190.25 309.41L190.50 335.45L190.60 335.45L190.75 335.45L191.00 308.10L191.25 289.89L191.50 281.02L191.75 275.84L192.00 272.65L192.25 270.73L192.50 269.74L192.75 269.51L193.00 269.78L193.25 270.49L193.50 271.80L193.75 274.00L194.00 277.51L194.25 282.88L194.50 289.74L194.75 292.00L194.80 292.00L195.00 291.62L195.25 284.60L195.50 278.04L195.75 273.82L196.00 271.26L196.25 269.79L196.50 269.03L196.75 268.80L197.00 269.14L197.25 270.23L197.50 272.28L197.75 275.74L198.00 281.49L198.25 291.20L198.50 304.16L198.70 305.00L198.75 305.00L199.00 298.72L199.25 285.23L199.50 277.19L199.75 272.48L200.00 269.70L200.25 268.13L200.50 267.46L200.75 267.44L201.00 267.74L201.25 268.48L201.50 269.97L201.75 272.66L202.00 277.00L202.25 282.13L202.50 283.00L202.75 282.21L203.00 277.29L203.25 272.78L203.50 269.74L203.75 267.88L204.00 266.80L204.25 266.24L204.50 266.02L204.75 266.11L205.00 266.78L205.25 268.17L205.50 270.52L205.75 274.30L206.00 280.37L206.25 290.34L206.50 303.20L206.70 304.00L206.75 304.00L207.00 299.98L207.25 289.44L207.50 282.17L207.75 277.61L208.00 274.74L208.25 272.98L208.50 271.99L208.75 271.61L209.00 271.73L209.25 272.29L209.50 273.41L209.75 275.31L210.00 278.39L210.25 283.20L210.50 290.16L210.75 295.60L210.90 295.60L211.00 295.60L211.25 290.41L211.50 281.89L211.75 276.30L212.00 272.93L212.25 270.96L212.50 269.91L212.75 269.51L213.00 269.79L213.25 271.04L213.50 273.51L213.75 277.78L214.00 285.23L214.25 300.09L214.50 335.45L214.70 335.45L214.75 335.45L215.00 320.78L215.25 293.31L215.50 282.09L215.75 275.94L216.00 272.27L216.25 270.10L216.50 268.98L216.75 268.74L217.00 269.32L217.25 270.82L217.50 273.53L217.75 278.04L218.00 285.78L218.25 301.11L218.50 335.45L218.70 335.45L218.75 335.45L219.00 323.64L219.25 295.28L219.50 283.94L219.75 277.80L220.00 274.17L220.25 272.06L220.50 271.02L220.75 270.89L221.00 271.63L221.25 273.38L221.50 276.48L221.75 281.71L222.00 291.02L222.25 311.39L222.50 335.45L222.63 335.45L222.75 335.45L223.00 312.04L223.25 291.39L223.50 282.06L223.75 276.85L224.00 273.81L224.25 272.13L224.50 271.48L224.75 271.75L225.00 272.99L225.25 275.43L225.50 279.64L225.75 286.98L226.00 301.50L226.25 335.45L226.47 335.45L226.50 335.45L226.75 333.15L227.00 298.72L227.25 286.41L227.50 279.97L227.75 276.27L228.00 274.19L228.25 273.27L228.50 273.32L228.75 274.25L229.00 276.26L229.25 279.82L229.50 285.94L229.75 297.12L230.00 317.70L230.24 321.17L230.25 321.17L230.50 317.01L230.75 297.07L231.00 286.33L231.25 280.45L231.50 277.07L231.75 275.20L232.00 274.41L232.25 274.52L232.50 275.57L232.75 277.78L233.00 281.70L233.25 288.58L233.50 301.54L233.75 321.62L233.94 321.77L234.00 321.77L234.25 313.79L234.50 296.05L234.75 286.73L235.00 281.56L235.25 278.61L235.50 277.06L235.75 276.52L236.00 276.96L236.25 278.53L236.50 281.60L236.75 287.06L237.00 297.31L237.25 322.35L237.50 335.45L237.60 335.45L237.75 335.45L238.00 312.22L238.25 292.46L238.50 283.63L238.75 278.84L239.00 276.18L239.25 274.92L239.50 274.79L239.75 275.75L240.00 278.02L240.25 282.19L240.50 289.77L240.75 305.60L241.00 335.45L241.21 335.45L241.25 335.45L241.50 335.45L241.75 300.02L242.00 287.59L242.25 281.28L242.50 277.80L242.75 275.99L243.00 275.43L243.25 275.98L243.50 277.77L243.75 281.24L244.00 287.54L244.25 299.99L244.50 335.45L244.75 335.45L244.79 335.45L245.00 335.45L245.25 309.34L245.50 293.09L245.75 285.44L246.00 281.30L246.25 279.10L246.50 278.25L246.75 278.50L247.00 279.79L247.25 282.44L247.50 287.25L247.75 296.05L248.00 312.40L248.25 318.97L248.33 318.97L248.50 318.97L248.75 305.24L249.00 292.49L249.25 285.71L249.50 281.97L249.75 279.99L250.00 279.20L250.25 279.46L250.50 280.96L250.75 284.11L251.00 289.95L251.25 301.44L251.50 333.68L251.75 335.45L251.82 335.45L252.00 335.45L252.25 316.65L252.50 297.64L252.75 289.24L253.00 284.79L253.25 282.47L253.50 281.60L253.75 281.97L254.00 283.66L254.25 287.14L254.50 293.64L254.75 306.95L255.00 335.45L255.25 335.45L255.28 335.45L255.50 335.45L255.75 312.92L256.00 296.58L256.25 289.06L256.50 285.08L256.75 283.09L257.00 282.51L257.25 283.05L257.50 284.72L257.75 288.04L258.00 294.16L258.25 305.58L258.50 317.86L258.70 317.86L258.75 317.86L259.00 315.15L259.25 300.72L259.50 292.11L259.75 287.48L260.00 285.03L260.25 283.95L260.50 283.93L260.75 285.20L261.00 288.18L261.25 293.90L261.50 305.43L261.75 335.45L262.00 335.45L262.08 335.45L262.25 335.45L262.50 319.65L262.75 298.92L263.00 290.20L263.25 285.72L263.50 283.49L263.75 282.81L264.00 283.22L264.25 284.63L264.50 287.53L264.75 292.98L265.00 302.57L265.25 309.32L265.42 309.32L265.50 309.32L265.75 307.27L266.00 297.64L266.25 291.36L266.50 287.98L266.75 286.30L267.00 285.67L267.25 285.84L267.50 286.96L267.75 289.45L268.00 294.23L268.25 302.99L268.50 312.33L268.73 312.33L268.75 312.33L269.00 311.88L269.25 300.84L269.50 292.73L269.75 288.39L270.00 286.18L270.25 285.27L270.50 285.33L270.75 286.49L271.00 289.16L271.25 294.36L271.50 304.31L271.75 317.53L272.00 317.60L272.00 317.60L272.25 317.51L272.50 304.12L272.75 294.21L273.00 289.07L273.25 286.46L273.50 285.36L273.75 285.46L274.00 287.09L274.25 290.82L274.50 298.28L274.75 315.32L275.00 335.45L275.23 335.45L275.25 335.45L275.50 335.45L275.75 314.14L276.00 299.31L276.25 292.60L276.50 289.28L276.75 287.97L277.00 288.13L277.25 289.51L277.50 292.60L277.75 298.70L278.00 310.34L278.25 318.90L278.43 318.90L278.50 318.90L278.75 317.11L279.00 304.06L279.25 296.11L279.50 292.03L279.75 290.06L280.00 289.42L280.25 290.05L280.50 292.48L280.75 297.62L281.00 308.38L281.25 335.45L281.50 335.45L281.62 335.45L281.75 335.45L282.00 335.45L282.25 308.74L282.50 298.44L282.75 293.50L283.00 291.20L283.25 290.69L283.50 291.81L283.75 294.94L284.00 301.40L284.25 315.79L284.50 335.45L284.75 335.45L284.79 335.45L285.00 335.45L285.25 321.71L285.50 301.40L285.75 293.13L286.00 289.13L286.25 287.44L286.50 287.46L286.75 289.21L287.00 293.33L287.25 301.88L287.50 323.44L287.75 335.45L287.95 335.45L288.00 335.45L288.25 335.45L288.50 310.00L288.75 295.56L289.00 289.11L289.25 286.04L289.50 285.01L289.75 285.68L290.00 288.27L290.25 293.87L290.50 306.04L290.75 335.45L291.00 335.45L291.10 335.45L291.25 335.45L291.50 333.64L291.75 303.72L292.00 293.39L292.25 288.54L292.50 286.39L292.75 286.10L293.00 287.57L293.25 291.35L293.50 299.32L293.75 318.99L294.00 335.45L294.24 335.45L294.25 335.45L294.50 335.45L294.75 315.47L295.00 298.00L295.25 290.67L295.50 287.21L295.75 285.98L296.00 286.31L296.25 287.93L296.50 291.60L296.75 299.05L297.00 311.42L297.25 312.94L297.36 312.94L297.50 312.94L297.75 310.58L298.00 300.19L298.25 294.08L298.50 291.12L298.75 289.89L299.00 289.79L299.25 291.36L299.50 295.40L299.75 304.08L300.00 326.85L300.25 335.45L300.47 335.45L300.50 335.45L300.75 335.45L301.00 319.07L301.25 301.80L301.50 294.60L301.75 291.28L302.00 290.20L302.25 290.98L302.50 293.91L302.75 300.37L303.00 315.41L303.25 335.45L303.50 335.45L303.57 335.45L303.75 335.45L304.00 335.45L304.25 308.73L304.50 298.61L304.75 293.97L305.00 292.07L305.25 292.11L305.50 294.12L305.75 298.96L306.00 309.63L306.25 335.45L306.50 335.45L306.67 335.45L306.75 335.45L307.00 335.45L307.25 316.95L307.50 302.03L307.75 295.63L308.00 292.75L308.25 292.04L308.50 293.23L308.75 296.81L309.00 304.64L309.25 324.48L309.50 335.45L309.75 335.45L309.77 335.45L310.00 335.45L310.25 329.67L310.50 305.35L310.75 296.40L311.00 292.31L311.25 290.78L311.50 291.21L311.75 293.75L312.00 299.59L312.25 313.02L312.50 335.45L312.75 335.45L312.87 335.45L313.00 335.45L313.25 335.45L313.50 313.07L313.75 300.09L314.00 294.40L314.25 291.95L314.50 291.61L314.75 293.25L315.00 297.59L315.25 307.22L315.50 335.09L315.75 335.45L315.97 335.45L316.00 335.45L316.25 335.45L316.50 322.30L316.75 301.95L317.00 294.02L317.25 290.44L317.50 289.29L317.75 290.12L318.00 293.27L318.25 300.36L318.50 317.81L318.75 335.45L319.00 335.45L319.07 335.45L319.25 335.45L319.50 335.45L319.75 308.82L320.00 297.45L320.25 292.42L320.50 290.38L320.75 290.42L321.00 292.58L321.25 297.84L321.50 309.87L321.75 335.45L322.00 335.45L322.17 335.45L322.25 335.45L322.50 335.45L322.75 318.72L323.00 301.41L323.25 294.38L323.50 291.28L323.75 290.52L324.00 291.80L324.25 295.66L324.50 304.34L324.75 328.17L325.00 335.45L325.25 335.45L325.27 335.45L325.50 335.45L325.75 335.45L326.00 305.72L326.25 295.73L326.50 291.29L326.75 289.66L327.00 290.11L327.25 292.84L327.50 299.24L327.75 314.68L328.00 335.45L328.25 335.45L328.37 335.45L328.50 335.45L328.75 335.45L329.00 310.99L329.25 296.11L329.50 289.89L329.75 287.25L330.00 286.89L330.25 288.65L330.50 293.35L330.75 304.07L331.00 335.45L331.25 335.45L331.47 335.45L331.50 335.45L331.75 335.45L332.00 322.96L332.25 298.97L332.50 290.28L332.75 286.46L333.00 285.25L333.25 286.12L333.50 289.47L333.75 297.11L334.00 316.86L334.25 335.45L334.50 335.45L334.57 335.45L334.75 335.45L335.00 335.45L335.25 305.24L335.50 292.85L335.75 287.51L336.00 285.38L336.25 285.42L336.50 287.67L336.75 293.21L337.00 306.16L337.25 335.45L337.50 335.45L337.67 335.45L337.75 335.45L338.00 335.45L338.25 313.70L338.50 294.92L338.75 287.54L339.00 284.33L339.25 283.54L339.50 284.86L339.75 288.84L340.00 297.90L340.25 323.63L340.50 335.45L340.75 335.45L340.77 335.45L341.00 335.45L341.25 333.98L341.50 301.23L341.75 290.87L342.00 286.33L342.25 284.66L342.50 285.12L342.75 287.90L343.00 294.42L343.25 310.31L343.50 335.45L343.75 335.45L343.87 335.45L344.00 335.45L344.25 335.45L344.50 309.83L344.75 294.67L345.00 288.38L345.25 285.73L345.50 285.36L345.75 287.13L346.00 291.85L346.25 302.66L346.50 335.45L346.75 335.45L346.97 335.45L347.00 335.45L347.25 335.45L347.50 324.62L347.75 300.32L348.00 291.58L348.25 287.73L348.50 286.52L348.75 287.40L349.00 290.76L349.25 298.45L349.50 318.42L349.75 335.45L350.00 335.45L350.07 335.45L350.25 335.45L350.50 335.45L350.75 306.03L351.00 293.54L351.25 288.17L351.50 286.03L351.75 286.07L352.00 288.33L352.25 293.90L352.50 306.95L352.75 335.45L353.00 335.45L353.17 335.45L353.25 335.45L353.50 335.45L353.75 315.32L354.00 296.34L354.25 288.92L354.50 285.69L354.75 284.90L355.00 286.22L355.25 290.23L355.50 299.34L355.75 325.42L356.00 335.45L356.25 335.45L356.27 335.45L356.50 335.45L356.75 335.45L357.00 302.37L357.25 291.94L357.50 287.37L357.75 285.70L358.00 286.16L358.25 288.95L358.50 295.51L358.75 311.55L359.00 335.45L359.25 335.45L359.37 335.45L359.50 335.45L359.75 335.45L360.00 311.89L360.25 296.59L360.50 290.27L360.75 287.60L361.00 287.23L361.25 289.01L361.50 293.76L361.75 304.64L362.00 335.45L362.25 335.45L362.47 335.45L362.50 335.45L362.75 335.45L363.00 325.35L363.25 300.74L363.50 291.94L363.75 288.07L364.00 286.85L364.25 287.74L364.50 291.11L364.75 298.85L365.00 319.04L365.25 335.45L365.50 335.45L365.57 335.45L365.75 335.45L366.00 335.45L366.25 308.15L366.50 295.56L366.75 290.17L367.00 288.01L367.25 288.06L367.50 290.33L367.75 295.93L368.00 309.09L368.25 335.45L368.50 335.45L368.67 335.45L368.75 335.45L369.00 335.45L369.25 319.82L369.50 300.63L369.75 293.16L370.00 289.92L370.25 289.13L370.50 290.45L370.75 294.48L371.00 303.66L371.25 330.08L371.50 335.45L371.75 335.45L371.77 335.45L372.00 335.45L372.25 335.45L372.50 306.19L372.75 295.68L373.00 291.09L373.25 289.42L373.50 289.88L373.75 292.68L374.00 299.28L374.25 315.47L374.50 335.45L374.75 335.45L374.87 335.45L375.00 335.45L375.25 335.45L375.50 316.34L375.75 300.90L376.00 294.53L376.25 291.85L376.50 291.49L376.75 293.27L377.00 298.04L377.25 309.02L377.50 335.45L377.75 335.45L377.97 335.45L378.00 335.45L378.25 335.45L378.50 330.81L378.75 305.88L379.00 297.02L379.25 293.14L379.50 291.91L379.75 292.80L380.00 296.19L380.25 303.98L380.50 324.40L380.75 335.45L381.00 335.45L381.07 335.45L381.25 335.45L381.50 335.45L381.75 311.18L382.00 298.49L382.25 293.07L382.50 290.90L382.75 290.95L383.00 293.23L383.25 298.86L383.50 312.13L383.75 335.45L384.00 335.45L384.17 335.45L384.25 335.45L384.50 335.45L384.75 324.25L385.00 304.86L385.25 297.34L385.50 294.08L385.75 293.29L386.00 294.62L386.25 298.67L386.50 307.91L386.75 334.70L387.00 335.45L387.25 335.45L387.27 335.45L387.50 335.45L387.75 335.45L388.00 307.04L388.25 296.45L388.50 291.84L388.75 290.15L389.00 290.62L389.25 293.44L389.50 300.07L389.75 316.42L390.00 335.45L390.25 335.45L390.37 335.45L390.50 335.45L390.75 335.45L391.00 315.59L391.25 300.00L391.50 293.60L391.75 290.91L392.00 290.54L392.25 292.33L392.50 297.13L392.75 308.18L393.00 335.45L393.25 335.45L393.47 335.45L393.50 335.45L393.75 335.45L394.00 328.48L394.25 303.23L394.50 294.31L394.75 290.40L395.00 289.17L395.25 290.06L395.50 293.47L395.75 301.31L396.00 321.96L396.25 335.45L396.50 335.45L396.57 335.45L396.75 335.45L397.00 335.45L397.25 310.58L397.50 297.78L397.75 292.33L398.00 290.15L398.25 290.20L398.50 292.49L398.75 298.15L399.00 311.54L399.25 335.45L399.50 335.45L399.67 335.45L399.75 335.45L400.00 335.45L400.25 321.28L400.50 301.68L400.75 294.11L401.00 290.84L401.25 290.04L401.50 291.38L401.75 295.45L402.00 304.75L402.25 331.91L402.50 335.45L402.75 335.45L402.77 335.45L403.00 335.45L403.25 335.45L403.50 305.90L403.75 295.24L404.00 290.60L404.25 288.91L404.50 289.37L404.75 292.20L405.00 298.88L405.25 315.38L405.50 335.45L405.75 335.45L405.87 335.45L406.00 335.45L406.25 335.45L406.50 311.73L406.75 296.00L407.00 289.56L407.25 286.85L407.50 286.48L407.75 288.28L408.00 293.11L408.25 304.25L408.50 335.45L408.75 335.45L408.97 335.45L409.00 335.45L409.25 335.45L409.50 328.13L409.75 302.54L410.00 293.56L410.25 289.63L410.50 288.40L410.75 289.29L411.00 292.72L411.25 300.61L411.50 321.49L411.75 335.45L412.00 335.45L412.07 335.45L412.25 335.45L412.50 335.45L412.75 308.53L413.00 295.63L413.25 290.14L413.50 287.96L413.75 288.01L414.00 290.31L414.25 296.00L414.50 309.50L414.75 335.45L415.00 335.45L415.17 335.45L415.25 335.45L415.50 335.45L415.75 317.64L416.00 297.82L416.25 290.21L416.50 286.92L416.75 286.11L417.00 287.12L417.25 290.22L417.50 297.16L417.75 312.12L418.00 319.65L418.25 319.65L418.27 319.65L418.50 319.65L418.75 314.98L419.00 298.21L419.25 290.26L419.50 286.67L419.75 285.38L420.00 285.87L420.25 288.71L420.50 295.43L420.75 312.09L421.00 335.45L421.25 335.45L421.37 335.45L421.50 335.45L421.75 335.45L422.00 312.27L422.25 296.39L422.50 289.91L422.75 287.19L423.00 286.82L423.25 288.63L423.50 293.48L423.75 304.70L424.00 335.45L424.25 335.45L424.47 335.45L424.50 335.45L424.75 335.45L425.00 326.11L425.25 300.18L425.50 291.14L425.75 287.19L426.00 285.95L426.25 286.85L426.50 290.29L426.75 298.23L427.00 319.35L427.25 335.45L427.50 335.45L427.57 335.45L427.75 335.45L428.00 335.45L428.25 308.85L428.50 295.83L428.75 290.32L429.00 288.13L429.25 288.17L429.50 290.48L429.75 296.21L430.00 309.83L430.25 335.45L430.50 335.45L430.67 335.45L430.75 335.45L431.00 335.45L431.25 319.43L431.50 299.39L431.75 291.73L432.00 288.43L432.25 287.62L432.50 288.97L432.75 293.08L433.00 302.52L433.25 330.44L433.50 335.45L433.75 335.45L433.77 335.45L434.00 335.45L434.25 335.45L434.50 303.45L434.75 292.63L435.00 287.94L435.25 286.23L435.50 286.70L435.75 289.56L436.00 296.31L436.25 313.14L436.50 335.45L436.75 335.45L436.87 335.45L437.00 335.45L437.25 335.45L437.50 314.11L437.75 298.08L438.00 291.56L438.25 288.83L438.50 288.46L438.75 290.27L439.00 295.15L439.25 306.46L439.50 335.45L439.75 335.45L439.97 335.45L440.00 335.45L440.25 335.45L440.50 327.41L440.75 301.14L441.00 292.03L441.25 288.07L441.50 286.82L441.75 287.48L442.00 290.03L442.25 295.88L442.50 308.58L442.75 319.04L443.00 319.04L443.07 319.04L443.25 319.04L443.50 318.30L443.75 303.87L444.00 295.47L444.25 291.63L444.50 290.14L444.75 290.26L445.00 292.59L445.25 298.34L445.50 312.08L445.75 335.45L446.00 335.45L446.17 335.45L446.25 335.45L446.50 335.45L446.75 320.09L447.00 299.83L447.25 292.12L447.50 288.80L447.75 287.99L448.00 289.34L448.25 293.48L448.50 302.98L448.75 331.30L449.00 335.45L449.25 335.45L449.27 335.45L449.50 335.45L449.75 335.45L450.00 307.30L450.25 296.39L450.50 291.67L450.75 289.96L451.00 290.43L451.25 293.30L451.50 300.10L451.75 317.09L452.00 335.45L452.25 335.45L452.37 335.45L452.50 335.45L452.75 335.45L453.00 314.02L453.25 297.84L453.50 291.29L453.75 288.54L454.00 288.17L454.25 289.99L454.50 294.89L454.75 306.29L455.00 335.45L455.25 335.45L455.47 335.45L455.50 335.45L455.75 335.45L456.00 331.86L456.25 305.23L456.50 296.06L456.75 292.08L457.00 290.82L457.25 291.73L457.50 295.21L457.75 303.25L458.00 324.86L458.25 335.45L458.50 335.45L458.57 335.45L458.75 335.45L459.00 335.45L459.25 310.25L459.50 297.02L459.75 291.44L460.00 289.23L460.25 289.28L460.50 291.61L460.75 297.40L461.00 311.25L461.25 335.45L461.50 335.45L461.67 335.45L461.75 335.45L462.00 335.45L462.25 323.73L462.50 303.25L462.75 295.49L463.00 292.15L463.25 291.34L463.50 292.70L463.75 296.85L464.00 306.42L464.25 335.16L464.50 335.45L464.75 335.45L464.77 335.45L465.00 335.45L465.25 335.45L465.50 307.93L465.75 296.94L466.00 292.20L466.25 290.48L466.50 290.95L466.75 293.83L467.00 300.67L467.25 317.83L467.50 335.45L467.75 335.45L467.87 335.45L468.00 335.45L468.25 335.45L468.50 314.28L468.75 297.95L469.00 291.35L469.25 288.60L469.50 288.22L469.75 290.05L470.00 294.98L470.25 306.47L470.50 335.45L470.75 335.45L470.97 335.45L471.00 335.45L471.25 335.45L471.50 330.56L471.75 303.56L472.00 294.33L472.25 290.32L472.50 289.06L472.75 289.97L473.00 293.47L473.25 301.56L473.50 323.43L473.75 335.45L474.00 335.45L474.07 335.45L474.25 335.45L474.50 335.45L474.75 311.89L475.00 298.54L475.25 292.93L475.50 290.71L475.75 290.76L476.00 293.10L476.25 298.92L476.50 312.90L476.75 335.45L477.00 335.45L477.17 335.45L477.25 335.45L477.50 335.45L477.75 322.51L478.00 301.79L478.25 293.98L478.50 290.63L478.75 289.82L479.00 291.18L479.25 295.36L479.50 304.99L479.75 334.15L480.00 335.45L480.25 335.45L480.27 335.45L480.50 335.45L480.75 335.45L481.00 307.40L481.25 296.32L481.50 291.56L481.75 289.83L482.00 290.30L482.25 293.20L482.50 300.08L482.75 317.41L483.00 335.45L483.25 335.45L483.37 335.45L483.50 335.45L483.75 335.45L484.00 315.93L484.25 299.43L484.50 292.80L484.75 290.03L485.00 289.65L485.25 291.49L485.50 296.44L485.75 308.02L486.00 335.45L486.25 335.45L486.47 335.45L486.50 335.45L486.75 335.45"/>
</g>
<g class="t" style="opacity:0.999" font-size="17.6" fill="#000" stroke="#000" stroke-width="0.3">
<text transform="translate(85.60 63.90) scale(1.010 1)" text-anchor="end">1000</text>
<text transform="translate(85.60 141.60) scale(1.010 1)" text-anchor="end">100</text>
<text transform="translate(85.60 219.30) scale(1.010 1)" text-anchor="end">10</text>
<text transform="translate(85.60 297.00) scale(1.010 1)" text-anchor="end">1</text>
<text transform="translate(91.50 358.60) scale(1.010 1)" text-anchor="middle">0.0</text>
<text transform="translate(160.70 358.60) scale(1.010 1)" text-anchor="middle">0.5</text>
<text transform="translate(229.90 358.60) scale(1.010 1)" text-anchor="middle">1.0</text>
<text transform="translate(299.10 358.60) scale(1.010 1)" text-anchor="middle">1.5</text>
<text transform="translate(368.30 358.60) scale(1.010 1)" text-anchor="middle">2.0</text>
<text transform="translate(437.50 358.60) scale(1.010 1)" text-anchor="middle">2.5</text>
<text transform="translate(289.30 29.00) scale(1.055 1)" text-anchor="middle" font-size="22">q1fg0</text>
<text transform="translate(243 385.8) scale(1.030 1)" letter-spacing="0.22">t - t<tspan font-size="10.6" dy="4.7">mrg</tspan><tspan dy="-4.7"> [Gyr]</tspan></text>
<text transform="translate(25.4 222.0) rotate(-90) scale(1.030 1)" letter-spacing="0.35">R<tspan font-size="10.6" dy="5.6">BH</tspan><tspan dy="-5.6"> [kpc]</tspan></text>
<text transform="translate(110.00 67.8) scale(1.06 1)" font-size="17.9" fill="#7f7f7f" stroke="#7f7f7f" stroke-width="0.3">1.0</text>
<text transform="translate(143.00 67.8) scale(1.06 1)" font-size="17.9" fill="#ff00ff" stroke="#ff00ff" stroke-width="0.55">0.9</text>
<text transform="translate(177.50 67.8) scale(1.06 1)" font-size="17.9" fill="#0000ff" stroke="#0000ff" stroke-width="0.55">0.8</text>
<text transform="translate(211.75 67.8) scale(1.06 1)" font-size="17.9" fill="#00ffff" stroke="#00ffff" stroke-width="0.55">0.7</text>
<text transform="translate(247.00 67.8) scale(1.06 1)" font-size="17.9" fill="#00ff00" stroke="#00ff00" stroke-width="0.55">0.6</text>
<text transform="translate(281.25 67.8) scale(1.06 1)" font-size="17.9" fill="#ffa500" stroke="#ffa500" stroke-width="0.55">0.5</text>
<text transform="translate(316.25 67.8) scale(1.06 1)" font-size="17.9" fill="#ff0000" stroke="#ff0000" stroke-width="0.55">0.4</text>
</g>
</svg>
</body></html>
